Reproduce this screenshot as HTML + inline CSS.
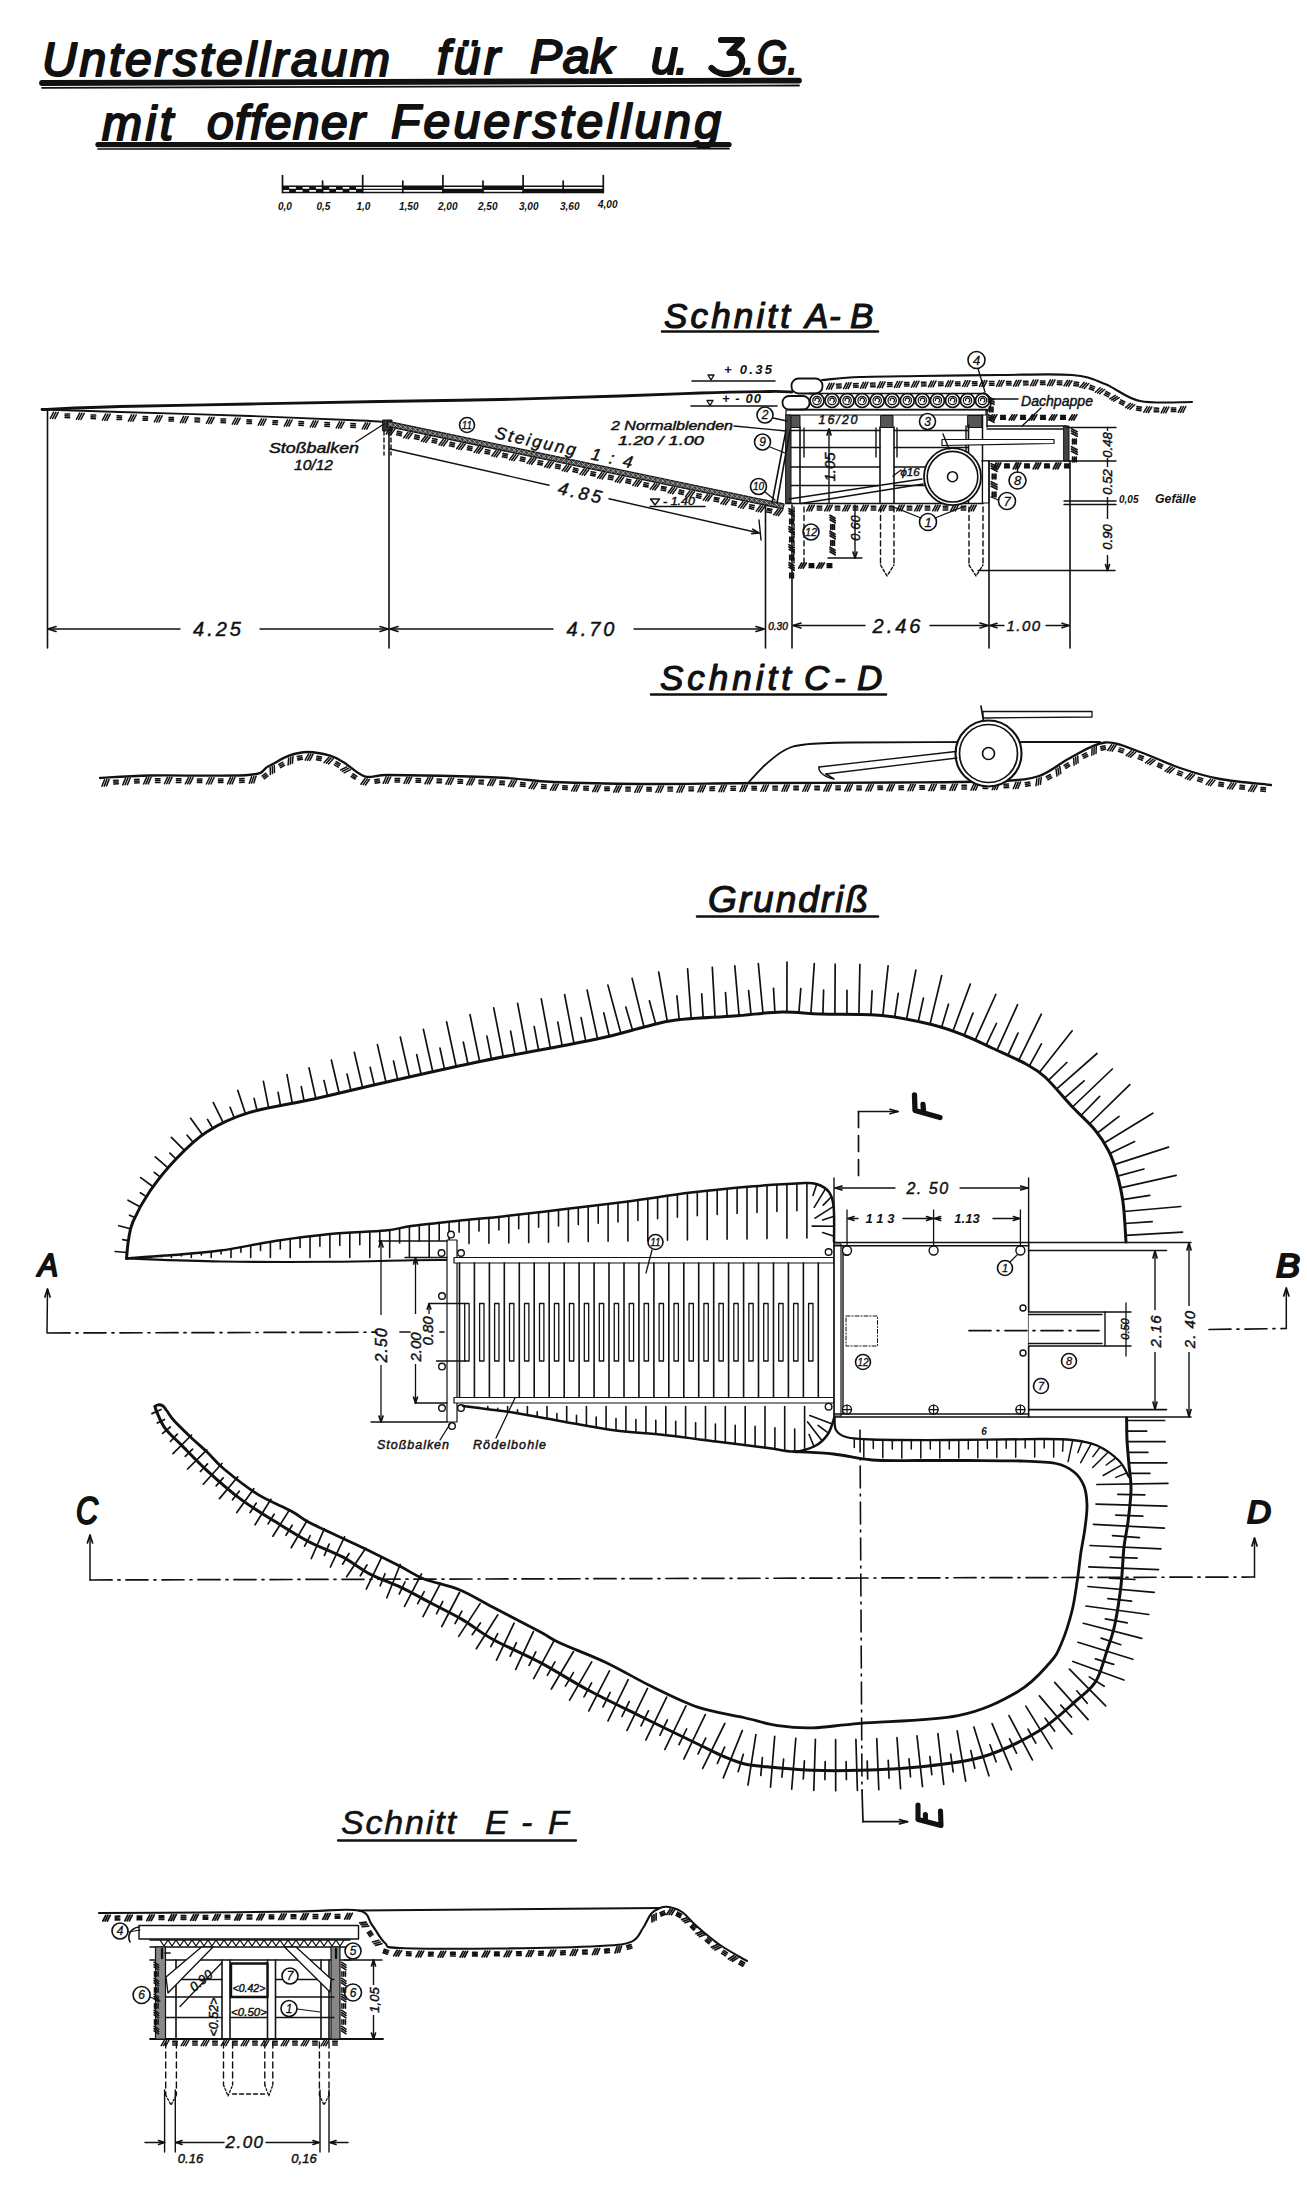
<!DOCTYPE html>
<html><head><meta charset="utf-8"><title>Unterstellraum</title>
<style>
html,body{margin:0;padding:0;background:#fff;}
body{width:1307px;height:2200px;overflow:hidden;}
svg{display:block;}
svg path, svg circle, svg ellipse, svg rect, svg polyline{fill:none;stroke:#111;stroke-linecap:round;stroke-linejoin:round;}
text{font-family:"Liberation Sans",sans-serif;fill:#111;stroke:none;}
.t{font-style:italic;stroke:#111;stroke-width:0.45px;}
.n{font-style:italic;stroke:#111;stroke-width:0.3px;}
.h{font-style:italic;font-weight:bold;}
.ht2{font-style:italic;stroke:#111;stroke-width:1.2px;stroke-linejoin:round;}
.ht3{font-style:italic;stroke:#111;stroke-width:0.6px;stroke-linejoin:round;}
.ht{font-style:italic;stroke:#111;stroke-width:2.1px;stroke-linejoin:round;}
</style></head>
<body><svg width="1307" height="2200" viewBox="0 0 1307 2200">
<rect x="0" y="0" width="1307" height="2200" style="fill:#fff;stroke:none"/>
<text class="ht" x="42" y="76" font-size="48" textLength="348" lengthAdjust="spacing">Unterstellraum</text>
<text class="ht" x="437" y="73.8" font-size="48" textLength="63" lengthAdjust="spacing">für</text>
<text class="ht" x="530" y="73.2" font-size="48" textLength="84" lengthAdjust="spacing">Pak</text>
<text class="ht" x="651" y="73.5" font-size="48" textLength="27" lengthAdjust="spacingAndGlyphs">u</text>
<text class="ht" x="675" y="73.5" font-size="48" textLength="10" lengthAdjust="spacing">.</text>
<text class="ht" x="742" y="73.5" font-size="48" textLength="8" lengthAdjust="spacing">.</text>
<text class="ht" x="757" y="73.8" font-size="48" textLength="41" lengthAdjust="spacingAndGlyphs">G.</text>
<path d="M721 40L742 40L729.5 53L736 53C745 55 745 70 731 73.5C724 75 716 73 711.5 68" stroke-width="6.2"/>
<path d="M42 83L799 80.6" stroke-width="5.8" stroke-linecap="round"/>
<path d="M42 87.8L799 85.5" stroke-width="1.8"/>
<text class="ht" x="102" y="140" font-size="48" textLength="71" lengthAdjust="spacing">mit</text>
<text class="ht" x="207" y="139.2" font-size="48" textLength="158" lengthAdjust="spacing">offener</text>
<text class="ht" x="391" y="138.2" font-size="48" textLength="330" lengthAdjust="spacing">Feuerstellung</text>
<path d="M98 144.6L729 144.6" stroke-width="5.3" stroke-linecap="round"/>
<path d="M98 149L729 148.7" stroke-width="1.7"/>
<path d="M282.5 186.2L603.3 186.2" stroke-width="1.4"/>
<path d="M282.5 192.5L603.3 192.5" stroke-width="1.4"/>
<path d="M282.5 189.3L603.3 189.3" stroke-width="1.2"/>
<rect x="282.5" y="186.2" width="6.7" height="3.1" style="fill:#111;stroke:none"/>
<rect x="289.2" y="189.3" width="6.7" height="3.2" style="fill:#111;stroke:none"/>
<rect x="295.9" y="186.2" width="6.7" height="3.1" style="fill:#111;stroke:none"/>
<rect x="302.6" y="189.3" width="6.7" height="3.2" style="fill:#111;stroke:none"/>
<rect x="309.2" y="186.2" width="6.7" height="3.1" style="fill:#111;stroke:none"/>
<rect x="315.9" y="189.3" width="6.7" height="3.2" style="fill:#111;stroke:none"/>
<rect x="322.6" y="186.2" width="6.7" height="3.1" style="fill:#111;stroke:none"/>
<rect x="329.3" y="189.3" width="6.7" height="3.2" style="fill:#111;stroke:none"/>
<rect x="336" y="186.2" width="6.7" height="3.1" style="fill:#111;stroke:none"/>
<rect x="342.7" y="189.3" width="6.7" height="3.2" style="fill:#111;stroke:none"/>
<rect x="349.3" y="186.2" width="6.7" height="3.1" style="fill:#111;stroke:none"/>
<rect x="356" y="189.3" width="6.7" height="3.2" style="fill:#111;stroke:none"/>
<rect x="402.8" y="186.2" width="40.1" height="3.1" style="fill:#111;stroke:none"/>
<rect x="442.9" y="189.3" width="40.1" height="3.2" style="fill:#111;stroke:none"/>
<rect x="483" y="186.2" width="40.1" height="3.1" style="fill:#111;stroke:none"/>
<rect x="523.1" y="189.3" width="40.1" height="3.2" style="fill:#111;stroke:none"/>
<rect x="563.2" y="189.3" width="40.1" height="3.2" style="fill:#111;stroke:none"/>
<path d="M282.5 175.5L282.5 192.5" stroke-width="1.7"/>
<path d="M322.6 181L322.6 192.5" stroke-width="1.7"/>
<path d="M362.7 175.5L362.7 192.5" stroke-width="1.7"/>
<path d="M402.8 181L402.8 192.5" stroke-width="1.7"/>
<path d="M442.9 175.5L442.9 192.5" stroke-width="1.7"/>
<path d="M483 181L483 192.5" stroke-width="1.7"/>
<path d="M523.1 175.5L523.1 192.5" stroke-width="1.7"/>
<path d="M563.2 181L563.2 192.5" stroke-width="1.7"/>
<path d="M603.3 175.5L603.3 192.5" stroke-width="1.7"/>
<text class="h" x="278" y="210" font-size="10" >0,0</text>
<text class="h" x="316.5" y="210" font-size="10" >0,5</text>
<text class="h" x="356.5" y="210" font-size="10" >1,0</text>
<text class="h" x="399" y="210" font-size="10" >1,50</text>
<text class="h" x="438" y="210" font-size="10" >2,00</text>
<text class="h" x="478" y="210" font-size="10" >2,50</text>
<text class="h" x="519" y="210" font-size="10" >3,00</text>
<text class="h" x="560" y="210" font-size="10" >3,60</text>
<text class="h" x="598" y="207.5" font-size="10" >4,00</text>
<text class="ht2" x="664" y="328" font-size="35" textLength="126" lengthAdjust="spacing">Schnitt</text>
<text class="ht2" x="805" y="328" font-size="35" textLength="23" lengthAdjust="spacing">A</text>
<text class="ht2" x="829" y="328" font-size="35" textLength="11" lengthAdjust="spacing">-</text>
<text class="ht2" x="850" y="328" font-size="35" textLength="26" lengthAdjust="spacing">B</text>
<path d="M662 331.5L878 331.5" stroke-width="2.5"/>
<path d="M42 409.5C55 409 85.3 407.4 120 406.5C154.7 405.6 206.7 404.8 250 404C293.3 403.2 338.3 402.2 380 401.5C421.7 400.8 460 400.4 500 399.5C540 398.6 586.7 397.1 620 396C653.3 394.9 675 393.8 700 393C725 392.2 754.7 391.7 770 391.5C785.3 391.3 788.3 391.9 792 392" stroke-width="2.8"/>
<path d="M42 409.5C55 409.9 85.3 410.9 120 412C154.7 413.1 210 414.6 250 416C290 417.4 337.3 419.5 360 420.5C382.7 421.5 381.7 421.8 386 422" stroke-width="1.8"/>
<path d="M53.6 412.2L50.4 418.4M55.9 412.3L52.7 418.5M58.2 412.4L55 418.6M65.1 414L69.7 414.1M65 415.8L69.6 415.9M65 417.6L69.6 417.7M79.6 413.1L76.4 419.3M81.9 413.2L78.7 419.4M84.2 413.3L81 419.5M91.1 414.9L95.7 415.1M91 416.7L95.6 416.9M91 418.5L95.5 418.7M105.6 414L102.4 420.2M107.9 414.1L104.7 420.3M110.2 414.2L107 420.4M117.1 415.8L121.7 415.9M117 417.6L121.6 417.7M116.9 419.4L121.5 419.5M131.6 414.9L128.4 421.1M133.9 414.9L130.7 421.2M136.2 415L133 421.2M143.1 416.6L147.7 416.7M143 418.4L147.6 418.5M143 420.2L147.5 420.3M157.6 415.7L154.4 421.9M159.9 415.7L156.7 422M162.2 415.8L159 422M169 417.4L173.6 417.5M169 419.2L173.6 419.3M168.9 421L173.5 421.1M183.6 416.4L180.4 422.7M185.9 416.5L182.7 422.7M188.2 416.6L185 422.8M195 418.1L199.6 418.3M195 419.9L199.6 420.1M194.9 421.7L199.5 421.9M209.6 417.2L206.4 423.4M211.9 417.3L208.7 423.5M214.2 417.3L211 423.6M221 418.9L225.6 419.1M221 420.7L225.6 420.9M220.9 422.5L225.5 422.7M235.6 418L232.3 424.2M237.9 418.1L234.6 424.3M240.2 418.2L236.9 424.4M247 419.8L251.6 419.9M246.9 421.6L251.5 421.7M246.9 423.4L251.5 423.5M261.5 418.9L258.3 425.1M263.8 419L260.6 425.2M266.1 419.1L262.9 425.3M273 420.7L277.6 420.8M272.9 422.5L277.5 422.6M272.8 424.3L277.4 424.4M287.5 419.8L284.3 426.1M289.8 419.9L286.6 426.1M292.1 420L288.9 426.2M299 421.6L303.6 421.8M298.9 423.4L303.5 423.6M298.8 425.2L303.4 425.4M313.5 420.8L310.3 427M315.8 420.9L312.6 427.1M318.1 421L314.9 427.2M324.9 422.6L329.5 422.8M324.9 424.4L329.5 424.6M324.8 426.2L329.4 426.4M339.5 421.8L336.2 428M341.8 421.9L338.5 428.1M344.1 422L340.8 428.2M350.9 423.6L355.5 423.8M350.8 425.4L355.4 425.6M350.8 427.2L355.4 427.4M365.5 422.8L362.2 429M367.8 422.9L364.5 429.1M370.1 423L366.8 429.2" stroke-width="1.5"/>
<rect x="383" y="420" width="9" height="11" style="fill:#333;stroke:#111;stroke-width:1"/>
<path d="M384 431L384 455" stroke-width="1.4" stroke-dasharray="4 3"/>
<path d="M391 431L391 455" stroke-width="1.4" stroke-dasharray="4 3"/>
<text class="t" x="269" y="453" font-size="14" text-anchor="start" textLength="90" lengthAdjust="spacingAndGlyphs">Stoßbalken</text>
<text class="t" x="294" y="470" font-size="14" text-anchor="start" textLength="39" lengthAdjust="spacingAndGlyphs">10/12</text>
<path d="M356 442L384 424" stroke-width="1.4"/>
<path d="M388 421.5L784 504L783 508.9L387 426.4Z" style="fill:#444;stroke:#111;stroke-width:1.3"/>
<path d="M388.7 422.5L392.3 426M392.3 422.5L388.7 426M393.6 423.5L397.2 427M397.2 423.5L393.6 427M398.6 424.6L402.2 428.1M402.2 424.6L398.6 428.1M403.5 425.6L407.1 429.1M407.1 425.6L403.5 429.1M408.5 426.6L412.1 430.1M412.1 426.6L408.5 430.1M413.4 427.7L417 431.2M417 427.7L413.4 431.2M418.4 428.7L422 432.2M422 428.7L418.4 432.2M423.3 429.7L426.9 433.2M426.9 429.7L423.3 433.2M428.3 430.8L431.9 434.3M431.9 430.8L428.3 434.3M433.2 431.8L436.8 435.3M436.8 431.8L433.2 435.3M438.2 432.8L441.8 436.3M441.8 432.8L438.2 436.3M443.1 433.9L446.7 437.4M446.7 433.9L443.1 437.4M448.1 434.9L451.7 438.4M451.7 434.9L448.1 438.4M453 435.9L456.6 439.4M456.6 435.9L453 439.4M458 437L461.6 440.5M461.6 437L458 440.5M462.9 438L466.5 441.5M466.5 438L462.9 441.5M467.9 439L471.5 442.5M471.5 439L467.9 442.5M472.8 440L476.4 443.5M476.4 440L472.8 443.5M477.8 441.1L481.4 444.6M481.4 441.1L477.8 444.6M482.7 442.1L486.3 445.6M486.3 442.1L482.7 445.6M487.7 443.1L491.3 446.6M491.3 443.1L487.7 446.6M492.6 444.2L496.2 447.7M496.2 444.2L492.6 447.7M497.6 445.2L501.2 448.7M501.2 445.2L497.6 448.7M502.5 446.2L506.1 449.7M506.1 446.2L502.5 449.7M507.5 447.3L511.1 450.8M511.1 447.3L507.5 450.8M512.4 448.3L516 451.8M516 448.3L512.4 451.8M517.4 449.3L521 452.8M521 449.3L517.4 452.8M522.3 450.4L525.9 453.9M525.9 450.4L522.3 453.9M527.3 451.4L530.9 454.9M530.9 451.4L527.3 454.9M532.2 452.4L535.8 455.9M535.8 452.4L532.2 455.9M537.2 453.5L540.8 457M540.8 453.5L537.2 457M542.1 454.5L545.7 458M545.7 454.5L542.1 458M547.1 455.5L550.7 459M550.7 455.5L547.1 459M552 456.5L555.6 460M555.6 456.5L552 460M557 457.6L560.6 461.1M560.6 457.6L557 461.1M561.9 458.6L565.5 462.1M565.5 458.6L561.9 462.1M566.9 459.6L570.5 463.1M570.5 459.6L566.9 463.1M571.8 460.7L575.4 464.2M575.4 460.7L571.8 464.2M576.8 461.7L580.4 465.2M580.4 461.7L576.8 465.2M581.7 462.7L585.3 466.2M585.3 462.7L581.7 466.2M586.7 463.8L590.3 467.3M590.3 463.8L586.7 467.3M591.6 464.8L595.2 468.3M595.2 464.8L591.6 468.3M596.6 465.8L600.2 469.3M600.2 465.8L596.6 469.3M601.5 466.9L605.1 470.4M605.1 466.9L601.5 470.4M606.5 467.9L610.1 471.4M610.1 467.9L606.5 471.4M611.4 468.9L615 472.4M615 468.9L611.4 472.4M616.4 470L620 473.5M620 470L616.4 473.5M621.3 471L624.9 474.5M624.9 471L621.3 474.5M626.3 472L629.9 475.5M629.9 472L626.3 475.5M631.2 473L634.8 476.5M634.8 473L631.2 476.5M636.2 474.1L639.8 477.6M639.8 474.1L636.2 477.6M641.1 475.1L644.7 478.6M644.7 475.1L641.1 478.6M646.1 476.1L649.7 479.6M649.7 476.1L646.1 479.6M651 477.2L654.6 480.7M654.6 477.2L651 480.7M656 478.2L659.6 481.7M659.6 478.2L656 481.7M660.9 479.2L664.5 482.7M664.5 479.2L660.9 482.7M665.9 480.3L669.5 483.8M669.5 480.3L665.9 483.8M670.8 481.3L674.4 484.8M674.4 481.3L670.8 484.8M675.8 482.3L679.4 485.8M679.4 482.3L675.8 485.8M680.7 483.4L684.3 486.9M684.3 483.4L680.7 486.9M685.7 484.4L689.3 487.9M689.3 484.4L685.7 487.9M690.6 485.4L694.2 488.9M694.2 485.4L690.6 488.9M695.6 486.5L699.2 490M699.2 486.5L695.6 490M700.5 487.5L704.1 491M704.1 487.5L700.5 491M705.5 488.5L709.1 492M709.1 488.5L705.5 492M710.4 489.5L714 493M714 489.5L710.4 493M715.4 490.6L719 494.1M719 490.6L715.4 494.1M720.3 491.6L723.9 495.1M723.9 491.6L720.3 495.1M725.3 492.6L728.9 496.1M728.9 492.6L725.3 496.1M730.2 493.7L733.8 497.2M733.8 493.7L730.2 497.2M735.2 494.7L738.8 498.2M738.8 494.7L735.2 498.2M740.1 495.7L743.7 499.2M743.7 495.7L740.1 499.2M745.1 496.8L748.7 500.3M748.7 496.8L745.1 500.3M750 497.8L753.6 501.3M753.6 497.8L750 501.3M755 498.8L758.6 502.3M758.6 498.8L755 502.3M759.9 499.9L763.5 503.4M763.5 499.9L759.9 503.4M764.9 500.9L768.5 504.4M768.5 500.9L764.9 504.4M769.8 501.9L773.4 505.4M773.4 501.9L769.8 505.4M774.8 503L778.4 506.5M778.4 503L774.8 506.5M779.7 504L783.3 507.5M783.3 504L779.7 507.5" style="fill:none;stroke:#ddd;stroke-width:0.6"/>
<path d="M390.3 428.4L386.1 434M392.6 428.9L388.4 434.5M394.8 429.4L390.6 434.9M397.4 431.3L401.9 432.2M397 433L401.5 434M396.7 434.8L401.2 435.7M408 432.1L403.7 437.7M410.2 432.6L406 438.1M412.5 433L408.2 438.6M415 435L419.5 435.9M414.7 436.7L419.2 437.7M414.3 438.5L418.8 439.4M425.6 435.8L421.4 441.3M427.8 436.2L423.6 441.8M430.1 436.7L425.9 442.3M432.6 438.6L437.1 439.6M432.3 440.4L436.8 441.3M431.9 442.2L436.4 443.1M443.2 439.4L439 445M445.5 439.9L441.2 445.5M447.7 440.4L443.5 446M450.3 442.3L454.8 443.2M449.9 444.1L454.4 445M449.5 445.8L454 446.8M460.8 443.1L456.6 448.7M463.1 443.6L458.8 449.2M465.3 444L461.1 449.6M467.9 446L472.4 446.9M467.5 447.7L472 448.7M467.2 449.5L471.7 450.4M478.4 446.8L474.2 452.4M480.7 447.2L476.5 452.8M482.9 447.7L478.7 453.3M485.5 449.6L490 450.6M485.1 451.4L489.6 452.3M484.8 453.2L489.3 454.1M496.1 450.4L491.8 456M498.3 450.9L494.1 456.5M500.6 451.4L496.3 457M503.1 453.3L507.6 454.3M502.8 455.1L507.3 456M502.4 456.8L506.9 457.8M513.7 454.1L509.5 459.7M515.9 454.6L511.7 460.2M518.2 455.1L514 460.6M520.8 457L525.3 457.9M520.4 458.7L524.9 459.7M520 460.5L524.5 461.4M531.3 457.8L527.1 463.4M533.6 458.3L529.3 463.8M535.8 458.7L531.6 464.3M538.4 460.7L542.9 461.6M538 462.4L542.5 463.4M537.6 464.2L542.1 465.1M548.9 461.5L544.7 467M551.2 461.9L547 467.5M553.4 462.4L549.2 468M556 464.3L560.5 465.3M555.6 466.1L560.1 467M555.3 467.9L559.8 468.8M566.6 465.1L562.3 470.7M568.8 465.6L564.6 471.2M571.1 466.1L566.8 471.7M573.6 468L578.1 468.9M573.3 469.8L577.8 470.7M572.9 471.5L577.4 472.5M584.2 468.8L579.9 474.4M586.4 469.3L582.2 474.9M588.7 469.7L584.5 475.3M591.2 471.7L595.7 472.6M590.9 473.4L595.4 474.4M590.5 475.2L595 476.1M601.8 472.5L597.6 478.1M604 472.9L599.8 478.5M606.3 473.4L602.1 479M608.9 475.3L613.4 476.3M608.5 477.1L613 478M608.1 478.9L612.6 479.8M619.4 476.1L615.2 481.7M621.7 476.6L617.4 482.2M623.9 477.1L619.7 482.7M626.5 479L631 479.9M626.1 480.8L630.6 481.7M625.7 482.5L630.3 483.5M637 479.8L632.8 485.4M639.3 480.3L635.1 485.9M641.5 480.8L637.3 486.3M644.1 482.7L648.6 483.6M643.7 484.4L648.2 485.4M643.4 486.2L647.9 487.1M654.7 483.5L650.4 489.1M656.9 484L652.7 489.5M659.2 484.4L654.9 490M661.7 486.4L666.2 487.3M661.4 488.1L665.9 489.1M661 489.9L665.5 490.8M672.3 487.2L668.1 492.7M674.5 487.6L670.3 493.2M676.8 488.1L672.6 493.7M679.3 490L683.9 491M679 491.8L683.5 492.7M678.6 493.5L683.1 494.5M689.9 490.8L685.7 496.4M692.2 491.3L687.9 496.9M694.4 491.8L690.2 497.4M697 493.7L701.5 494.6M696.6 495.5L701.1 496.4M696.2 497.2L700.7 498.2M707.5 494.5L703.3 500.1M709.8 495L705.6 500.6M712 495.4L707.8 501M714.6 497.4L719.1 498.3M714.2 499.1L718.7 500.1M713.9 500.9L718.4 501.8M725.1 498.2L720.9 503.8M727.4 498.6L723.2 504.2M729.7 499.1L725.4 504.7M732.2 501L736.7 502M731.8 502.8L736.3 503.7M731.5 504.6L736 505.5M742.8 501.8L738.5 507.4M745 502.3L740.8 507.9M747.3 502.8L743 508.4M749.8 504.7L754.3 505.6M749.5 506.5L754 507.4M749.1 508.2L753.6 509.2M760.4 505.5L756.2 511.1M762.6 506L758.4 511.6M764.9 506.5L760.7 512M767.5 508.4L772 509.3M767.1 510.1L771.6 511.1M766.7 511.9L771.2 512.8M778 509.2L773.8 514.8M780.3 509.7L776 515.2M782.5 510.1L778.3 515.7" stroke-width="1.5"/>
<path d="M390 449L549 485.2" stroke-width="1.4"/>
<path d="M609 498.8L759 533" stroke-width="1.4"/>
<path d="M751.7 533.6L759 533L752.7 529.3" stroke-width="1.7"/>
<path d="M759 520L761 540" stroke-width="1.4"/>
<text class="t" x="580" y="499" font-size="18" text-anchor="middle" transform="rotate(12.8 580 499)" letter-spacing="3">4.85</text>
<text class="t" x="494" y="438" font-size="17" text-anchor="start" transform="rotate(12.5 494 438)" letter-spacing="2.2">Steigung&#160;&#160;1 : 4</text>
<circle cx="467" cy="425" r="7.5" stroke-width="1.6" style="fill:white"/>
<text class="n" x="467" y="428.6" font-size="10" text-anchor="middle">11</text>
<text class="t" x="611" y="430" font-size="13" text-anchor="start" textLength="122" lengthAdjust="spacingAndGlyphs">2 Normalblenden</text>
<text class="t" x="618" y="445" font-size="13" text-anchor="start" textLength="86" lengthAdjust="spacingAndGlyphs">1.20 / 1.00</text>
<path d="M734 426L786 431" stroke-width="1.3"/>
<path d="M692 381L775 381" stroke-width="1.5"/>
<path d="M708 375L714 375L711 380Z" stroke-width="1.4"/>
<text class="h" x="724" y="374.3" font-size="13" text-anchor="start" textLength="48" lengthAdjust="spacing">+ 0.35</text>
<path d="M691 406L777 406" stroke-width="1.5"/>
<path d="M707 400.5L713 400.5L710 405.5Z" stroke-width="1.4"/>
<text class="h" x="722" y="402.7" font-size="13" text-anchor="start" textLength="39" lengthAdjust="spacing">+ - 00</text>
<path d="M650 506.5L705 506.5" stroke-width="1.4"/>
<path d="M650.5 499L659.5 499L655 505Z" stroke-width="1.4"/>
<text class="t" x="663" y="505" font-size="11" text-anchor="start" textLength="32" lengthAdjust="spacingAndGlyphs">- 1.40</text>
<path d="M822 380C828.3 379.5 843.7 377.7 860 377C876.3 376.3 896.7 376.3 920 376C943.3 375.7 974.7 375.2 1000 375C1025.3 374.8 1054.5 373.5 1072 375C1089.5 376.5 1093.7 379.7 1105 384C1116.3 388.3 1125.5 398 1140 401C1154.5 404 1183.3 401.8 1192 402" stroke-width="2.1"/>
<path d="M829.5 383.4L826.6 389.2M831.8 383.3L828.9 389.2M834.1 383.3L831.2 389.1M836.5 384.3L841.1 384.1M836.6 386.1L841.1 385.9M836.6 387.9L841.2 387.7M846.5 382.9L843.6 388.7M848.8 382.8L845.9 388.6M851.1 382.7L848.2 388.6M853.5 383.7L858.1 383.6M853.5 385.5L858.1 385.4M853.6 387.3L858.2 387.2M863.4 382.4L860.6 388.2M865.7 382.3L862.9 388.1M868 382.2L865.2 388.1M870.5 383.2L875.1 383.1M870.5 385L875.1 384.9M870.6 386.8L875.2 386.7M880.4 381.9L877.6 387.7M882.7 381.9L879.9 387.7M885 381.8L882.2 387.6M887.5 382.8L892.1 382.7M887.5 384.6L892.1 384.5M887.5 386.4L892.1 386.3M897.4 381.5L894.5 387.4M899.7 381.5L896.8 387.3M902 381.5L899.1 387.3M904.4 382.5L909 382.4M904.5 384.3L909.1 384.2M904.5 386.1L909.1 386M914.4 381.3L911.5 387.1M916.7 381.2L913.8 387M919 381.2L916.1 387M921.4 382.3L926 382.2M921.5 384.1L926.1 384M921.5 385.9L926.1 385.8M931.4 381.1L928.5 386.9M933.7 381L930.8 386.8M936 381L933.1 386.8M938.4 382.1L943 382M938.5 383.9L943.1 383.8M938.5 385.7L943.1 385.6M948.4 380.9L945.5 386.7M950.7 380.9L947.8 386.6M953 380.8L950.1 386.6M955.4 381.9L960 381.9M955.4 383.7L960 383.7M955.5 385.5L960.1 385.5M965.4 380.7L962.5 386.5M967.7 380.7L964.8 386.5M970 380.7L967.1 386.5M972.4 381.8L977 381.7M972.4 383.6L977 383.5M972.5 385.4L977.1 385.3M982.4 380.6L979.5 386.4M984.7 380.6L981.8 386.4M987 380.6L984.1 386.4M989.4 381.6L994 381.6M989.4 383.4L994 383.4M989.5 385.2L994.1 385.2M999.4 380.5L996.5 386.3M1001.7 380.5L998.8 386.3M1004 380.5L1001.1 386.2M1006.4 381.5L1011 381.5M1006.5 383.3L1011.1 383.3M1006.5 385.1L1011.1 385.1M1016.4 380.3L1013.5 386.1M1018.7 380.3L1015.8 386.1M1021 380.2L1018.1 386M1023.4 381.3L1028 381.2M1023.5 383.1L1028.1 383M1023.5 384.9L1028.1 384.8M1033.4 380L1030.5 385.8M1035.7 380L1032.8 385.8M1038 379.9L1035.1 385.7M1040.4 381L1045 381M1040.4 382.8L1045 382.8M1040.5 384.6L1045.1 384.6M1050.4 379.9L1047.4 385.6M1052.7 379.9L1049.7 385.6M1055 379.9L1052 385.6M1057.4 381L1062 381.1M1057.3 382.8L1061.9 382.9M1057.2 384.6L1061.8 384.7M1067.4 380.3L1064 385.9M1069.7 380.5L1066.3 386M1072 380.6L1068.6 386.2M1074.2 381.9L1078.7 382.5M1074 383.7L1078.5 384.3M1073.7 385.5L1078.3 386.1M1084.1 382.4L1079.9 387.3M1086.4 383L1082.1 387.8M1088.6 383.5L1084.3 388.4M1090.4 385.3L1094.7 386.9M1089.8 387L1094.1 388.6M1089.2 388.7L1093.5 390.3M1100.2 387.8L1095.3 392.2M1102.3 388.7L1097.5 393M1104.5 389.5L1099.7 393.8M1106.1 391.4L1110.1 393.6M1105.2 393L1109.2 395.2M1104.3 394.6L1108.4 396.8M1115.3 395.4L1109.8 398.8M1117.2 396.6L1111.7 400M1119.2 397.7L1113.7 401.2M1120.8 399.9L1124.9 402M1120 401.5L1124.1 403.6M1119.2 403.1L1123.3 405.2M1130.4 403.2L1125.6 407.6M1132.6 404L1127.8 408.4M1134.7 404.8L1130 409.2M1137 406.4L1141.5 407.2M1136.7 408.2L1141.2 409M1136.4 410L1140.9 410.8M1147.1 406.7L1143.8 412.2M1149.4 406.8L1146.1 412.4M1151.7 407L1148.4 412.5M1154.1 408.1L1158.7 408.2M1154.1 409.9L1158.7 410M1154.1 411.7L1158.7 411.8M1164.2 407.1L1161.2 412.9M1166.5 407.1L1163.5 412.8M1168.8 407L1165.8 412.8M1171.2 408L1175.8 407.9M1171.3 409.8L1175.9 409.7M1171.3 411.6L1175.9 411.5M1181.2 406.6L1178.3 412.4M1183.5 406.5L1180.6 412.4M1185.8 406.5L1182.9 412.3" stroke-width="1.5"/>
<rect x="791.5" y="378.5" width="31" height="15" rx="7" ry="7" stroke-width="1.8" style="fill:#fff"/>
<rect x="782.5" y="396" width="27" height="13.5" rx="6.5" ry="6.5" stroke-width="1.8" style="fill:#fff"/>
<path d="M809 393.5L985 393.5" stroke-width="1.7"/>
<path d="M800 409.5L987 409.5" stroke-width="1.7"/>
<circle cx="817" cy="400.5" r="7" stroke-width="1.7" style="fill:none"/>
<circle cx="817" cy="400.5" r="4.2" stroke-width="1.2" style="fill:none"/>
<path d="M815 400.5A2.2 2.2 0 1 1 818.5 402" stroke-width="1.3"/>
<circle cx="832" cy="400.5" r="7" stroke-width="1.7" style="fill:none"/>
<circle cx="832" cy="400.5" r="4.2" stroke-width="1.2" style="fill:none"/>
<path d="M830 400.5A2.2 2.2 0 1 1 833.5 402" stroke-width="1.3"/>
<circle cx="847.1" cy="400.5" r="7" stroke-width="1.7" style="fill:none"/>
<circle cx="847.1" cy="400.5" r="4.2" stroke-width="1.2" style="fill:none"/>
<path d="M845.1 400.5A2.2 2.2 0 1 1 848.6 402" stroke-width="1.3"/>
<circle cx="862.1" cy="400.5" r="7" stroke-width="1.7" style="fill:none"/>
<circle cx="862.1" cy="400.5" r="4.2" stroke-width="1.2" style="fill:none"/>
<path d="M860.1 400.5A2.2 2.2 0 1 1 863.6 402" stroke-width="1.3"/>
<circle cx="877.2" cy="400.5" r="7" stroke-width="1.7" style="fill:none"/>
<circle cx="877.2" cy="400.5" r="4.2" stroke-width="1.2" style="fill:none"/>
<path d="M875.2 400.5A2.2 2.2 0 1 1 878.7 402" stroke-width="1.3"/>
<circle cx="892.2" cy="400.5" r="7" stroke-width="1.7" style="fill:none"/>
<circle cx="892.2" cy="400.5" r="4.2" stroke-width="1.2" style="fill:none"/>
<path d="M890.2 400.5A2.2 2.2 0 1 1 893.8 402" stroke-width="1.3"/>
<circle cx="907.3" cy="400.5" r="7" stroke-width="1.7" style="fill:none"/>
<circle cx="907.3" cy="400.5" r="4.2" stroke-width="1.2" style="fill:none"/>
<path d="M905.3 400.5A2.2 2.2 0 1 1 908.8 402" stroke-width="1.3"/>
<circle cx="922.4" cy="400.5" r="7" stroke-width="1.7" style="fill:none"/>
<circle cx="922.4" cy="400.5" r="4.2" stroke-width="1.2" style="fill:none"/>
<path d="M920.4 400.5A2.2 2.2 0 1 1 923.9 402" stroke-width="1.3"/>
<circle cx="937.4" cy="400.5" r="7" stroke-width="1.7" style="fill:none"/>
<circle cx="937.4" cy="400.5" r="4.2" stroke-width="1.2" style="fill:none"/>
<path d="M935.4 400.5A2.2 2.2 0 1 1 938.9 402" stroke-width="1.3"/>
<circle cx="952.5" cy="400.5" r="7" stroke-width="1.7" style="fill:none"/>
<circle cx="952.5" cy="400.5" r="4.2" stroke-width="1.2" style="fill:none"/>
<path d="M950.5 400.5A2.2 2.2 0 1 1 954 402" stroke-width="1.3"/>
<circle cx="967.5" cy="400.5" r="7" stroke-width="1.7" style="fill:none"/>
<circle cx="967.5" cy="400.5" r="4.2" stroke-width="1.2" style="fill:none"/>
<path d="M965.5 400.5A2.2 2.2 0 1 1 969 402" stroke-width="1.3"/>
<circle cx="982.5" cy="400.5" r="7" stroke-width="1.7" style="fill:none"/>
<circle cx="982.5" cy="400.5" r="4.2" stroke-width="1.2" style="fill:none"/>
<path d="M980.5 400.5A2.2 2.2 0 1 1 984 402" stroke-width="1.3"/>
<path d="M984 393C992 396 993 406 987 411" stroke-width="1.8"/>
<rect x="786" y="410" width="200" height="5" stroke-width="1.2"/>
<rect x="787" y="415.5" width="13" height="12" style="fill:#555;stroke:#111;stroke-width:1"/>
<rect x="881" y="415.5" width="12" height="12" style="fill:#555;stroke:#111;stroke-width:1"/>
<rect x="968" y="415.5" width="14" height="12" style="fill:#555;stroke:#111;stroke-width:1"/>
<rect x="786" y="415" width="5" height="88" style="fill:#444;stroke:#111;stroke-width:1"/>
<path d="M800 427L800 503" stroke-width="1.6"/>
<path d="M880 427L880 503" stroke-width="1.6"/>
<path d="M894 427L894 503" stroke-width="1.6"/>
<path d="M968.5 425L968.5 503" stroke-width="1.6"/>
<path d="M982.5 415L982.5 503" stroke-width="1.5"/>
<path d="M804 428L804 457" stroke-width="1.4"/>
<path d="M876 428L876 457" stroke-width="1.4"/>
<path d="M897 428L897 457" stroke-width="1.4"/>
<path d="M966 426L966 459" stroke-width="1.4"/>
<path d="M791 430.5L880 430.5" stroke-width="1.4"/>
<path d="M894 430.5L968 430.5" stroke-width="1.4"/>
<path d="M791 447.5L880 447.5" stroke-width="1.4"/>
<path d="M894 447.5L968 447.5" stroke-width="1.4"/>
<path d="M791 467L880 467" stroke-width="1.4"/>
<path d="M894 467L968 467" stroke-width="1.4"/>
<path d="M791 485.5L880 485.5" stroke-width="1.4"/>
<path d="M894 485.5L968 485.5" stroke-width="1.4"/>
<path d="M786 503.5L983 503.5" stroke-width="1.7"/>
<path d="M809.7 505.2L806.7 510.9M812 505.2L809 510.9M814.3 505.2L811.3 510.9M817.2 506.3L821.8 506.3M817.2 508.1L821.8 508.1M817.2 509.9L821.8 509.9M827.7 505.2L824.7 510.9M830 505.2L827 510.9M832.3 505.2L829.3 510.9M835.2 506.3L839.8 506.3M835.2 508.1L839.8 508.1M835.2 509.9L839.8 509.9M845.7 505.2L842.7 510.9M848 505.2L845 510.9M850.3 505.2L847.3 510.9M853.2 506.3L857.8 506.3M853.2 508.1L857.8 508.1M853.2 509.9L857.8 509.9M863.7 505.2L860.7 510.9M866 505.2L863 510.9M868.3 505.2L865.3 510.9M871.2 506.3L875.8 506.3M871.2 508.1L875.8 508.1M871.2 509.9L875.8 509.9M881.7 505.2L878.7 510.9M884 505.2L881 510.9M886.3 505.2L883.3 510.9M889.2 506.3L893.8 506.3M889.2 508.1L893.8 508.1M889.2 509.9L893.8 509.9M899.7 505.2L896.7 510.9M902 505.2L899 510.9M904.3 505.2L901.3 510.9M907.2 506.3L911.8 506.3M907.2 508.1L911.8 508.1M907.2 509.9L911.8 509.9M917.7 505.2L914.7 510.9M920 505.2L917 510.9M922.3 505.2L919.3 510.9M925.2 506.3L929.8 506.3M925.2 508.1L929.8 508.1M925.2 509.9L929.8 509.9M935.7 505.2L932.7 510.9M938 505.2L935 510.9M940.3 505.2L937.3 510.9M943.2 506.3L947.8 506.3M943.2 508.1L947.8 508.1M943.2 509.9L947.8 509.9M953.7 505.2L950.7 510.9M956 505.2L953 510.9M958.3 505.2L955.3 510.9M961.2 506.3L965.8 506.3M961.2 508.1L965.8 508.1M961.2 509.9L965.8 509.9M971.7 505.2L968.7 510.9M974 505.2L971 510.9M976.3 505.2L973.3 510.9" stroke-width="1.5"/>
<path d="M789 499L922 479M801 503.5L923 484" stroke-width="1.3"/>
<path d="M942 439.5L1054 439.5L1054 443.5L942 445.5Z" stroke-width="1.2" style="fill:#fff"/>
<circle cx="952.5" cy="476.7" r="28.5" stroke-width="1.8" style="fill:#fff"/>
<circle cx="952.5" cy="476.7" r="25.3" stroke-width="1.6" style="fill:none"/>
<circle cx="952.5" cy="476.7" r="5" stroke-width="1.6" style="fill:none"/>
<path d="M943 434L949 449" stroke-width="1.4"/>
<text class="t" x="910" y="475.5" font-size="11.5" text-anchor="middle">ϕ16</text>
<path d="M893 476L901 470" stroke-width="1.3"/>
<text class="t" x="838" y="424" font-size="12.5" text-anchor="middle" textLength="39" lengthAdjust="spacing">16/20</text>
<path d="M829 429L829 503" stroke-width="1.4"/>
<path d="M831 435L829 429L827 435" stroke-width="1.7"/>
<text class="t" x="835" y="467" font-size="15" text-anchor="middle" transform="rotate(-90 835 467)">1.05</text>
<path d="M786 430L772 503" stroke-width="1.6"/>
<path d="M790 430L777 503" stroke-width="1.6"/>
<circle cx="765" cy="415" r="8" stroke-width="1.6" style="fill:white"/>
<text class="n" x="765" y="419.3" font-size="12" text-anchor="middle">2</text>
<path d="M773 418L787 421" stroke-width="1.3"/>
<circle cx="762.5" cy="442" r="8" stroke-width="1.6" style="fill:white"/>
<text class="n" x="762.5" y="446.3" font-size="12" text-anchor="middle">9</text>
<path d="M770 447L785 453" stroke-width="1.3"/>
<circle cx="758.5" cy="486.5" r="8" stroke-width="1.6" style="fill:white"/>
<text class="n" x="758.5" y="490.1" font-size="10" text-anchor="middle">10</text>
<path d="M765 492L775 500" stroke-width="1.3"/>
<path d="M987 411L987 427" stroke-width="1.5"/>
<path d="M987 426L1066 426" stroke-width="1.5"/>
<path d="M987 429L1066 429" stroke-width="1.4"/>
<rect x="1064" y="426" width="5" height="35" style="fill:#444;stroke:#111;stroke-width:1"/>
<path d="M982 461L1069 461" stroke-width="1.6"/>
<rect x="983" y="461" width="6" height="42" style="fill:#fff;stroke:#111;stroke-width:1"/>
<path d="M989.2 420L992.2 414.8M991.5 420L994.5 414.8M993.8 420L996.8 414.8M1000.7 419.2L1005.3 419.2M1000.7 417.4L1005.3 417.4M1000.7 415.6L1005.3 415.6M1009.2 420L1012.2 414.8M1011.5 420L1014.5 414.8M1013.8 420L1016.8 414.8M1020.7 419.2L1025.3 419.2M1020.7 417.4L1025.3 417.4M1020.7 415.6L1025.3 415.6M1029.2 420L1032.2 414.8M1031.5 420L1034.5 414.8M1033.8 420L1036.8 414.8M1040.7 419.2L1045.3 419.2M1040.7 417.4L1045.3 417.4M1040.7 415.6L1045.3 415.6M1049.2 420L1052.2 414.8M1051.5 420L1054.5 414.8M1053.8 420L1056.8 414.8M1060.7 419.2L1065.3 419.2M1060.7 417.4L1065.3 417.4M1060.7 415.6L1065.3 415.6M1069.2 420L1072.2 414.8M1071.5 420L1074.5 414.8M1073.8 420L1076.8 414.8" stroke-width="1.7"/>
<path d="M996.2 463L993.2 468.8M998.5 463L995.5 468.8M1000.8 463L997.8 468.8M1004.7 464.1L1009.3 464.1M1004.7 465.9L1009.3 465.9M1004.7 467.7L1009.3 467.7M1016.2 463L1013.2 468.8M1018.5 463L1015.5 468.8M1020.8 463L1017.8 468.8M1024.7 464.1L1029.3 464.1M1024.7 465.9L1029.3 465.9M1024.7 467.7L1029.3 467.7M1036.2 463L1033.2 468.8M1038.5 463L1035.5 468.8M1040.8 463L1037.8 468.8M1044.7 464.1L1049.3 464.1M1044.7 465.9L1049.3 465.9M1044.7 467.7L1049.3 467.7M1056.2 463L1053.2 468.8M1058.5 463L1055.5 468.8M1060.8 463L1057.8 468.8M1064.7 464.1L1069.3 464.1M1064.7 465.9L1069.3 465.9M1064.7 467.7L1069.3 467.7" stroke-width="1.7"/>
<path d="M1071.5 428.7L1077.2 431.7M1071.5 431L1077.2 434M1071.5 433.3L1077.2 436.3M1072.6 439.2L1072.6 443.8M1074.4 439.2L1074.4 443.8M1076.2 439.2L1076.2 443.8M1071.5 446.7L1077.2 449.7M1071.5 449L1077.2 452M1071.5 451.3L1077.2 454.3M1072.6 457.2L1072.6 461.8M1074.4 457.2L1074.4 461.8M1076.2 457.2L1076.2 461.8" stroke-width="1.7"/>
<path d="M991.2 463.7L997 466.7M991.2 466L997 469M991.2 468.3L997 471.3M992.3 474.2L992.3 478.8M994.1 474.2L994.1 478.8M995.9 474.2L995.9 478.8M991.2 481.7L997 484.7M991.2 484L997 487M991.2 486.3L997 489.3M992.3 492.2L992.3 496.8M994.1 492.2L994.1 496.8M995.9 492.2L995.9 496.8" stroke-width="1.7"/>
<path d="M988.2 396.7L994 399.7M988.2 399L994 402M988.2 401.3L994 404.3M989.3 407.2L989.3 411.8M991.1 407.2L991.1 411.8M992.9 407.2L992.9 411.8M988.2 414.7L994 417.7M988.2 417L994 420M988.2 419.3L994 422.3" stroke-width="1.7"/>
<circle cx="976.5" cy="360" r="8.5" stroke-width="1.6" style="fill:white"/>
<text class="n" x="976.5" y="364.7" font-size="13" text-anchor="middle">4</text>
<path d="M978 368.5L985 392" stroke-width="1.3"/>
<text class="t" x="1021" y="406" font-size="15" text-anchor="start" textLength="72" lengthAdjust="spacingAndGlyphs">Dachpappe</text>
<path d="M990 399L1018 399" stroke-width="1.3"/>
<path d="M1041 408L1022 426" stroke-width="1.3"/>
<circle cx="927.5" cy="421.5" r="8" stroke-width="1.6" style="fill:white"/>
<text class="n" x="927.5" y="425.8" font-size="12" text-anchor="middle">3</text>
<circle cx="1017.5" cy="480.5" r="8.5" stroke-width="1.6" style="fill:white"/>
<text class="n" x="1017.5" y="485.2" font-size="13" text-anchor="middle">8</text>
<path d="M1017.5 472L1017 463" stroke-width="1.3"/>
<circle cx="1007" cy="501" r="8.5" stroke-width="1.6" style="fill:white"/>
<text class="n" x="1007" y="505.7" font-size="13" text-anchor="middle">7</text>
<path d="M998.5 500L991 497" stroke-width="1.3"/>
<circle cx="928" cy="522" r="8.5" stroke-width="1.6" style="fill:white"/>
<text class="n" x="928" y="526.7" font-size="13" text-anchor="middle">1</text>
<path d="M921 518L891 506" stroke-width="1.3"/>
<path d="M935 518L965 506" stroke-width="1.3"/>
<circle cx="811" cy="532" r="8" stroke-width="1.6" style="fill:white"/>
<text class="n" x="811" y="536" font-size="11" text-anchor="middle">12</text>
<path d="M794 507L794 565" stroke-width="1.4" stroke-dasharray="5 3.5"/>
<path d="M804 507L804 565" stroke-width="1.4" stroke-dasharray="5 3.5"/>
<path d="M880.5 507L880.5 565" stroke-width="1.4" stroke-dasharray="5 3.5"/>
<path d="M894 507L894 565" stroke-width="1.4" stroke-dasharray="5 3.5"/>
<path d="M969 507L969 565" stroke-width="1.4" stroke-dasharray="5 3.5"/>
<path d="M983 507L983 565" stroke-width="1.4" stroke-dasharray="5 3.5"/>
<path d="M880.5 565L887 576L894 565M969 565L976 576L983 565" stroke-width="1.4" stroke-dasharray="3 2"/>
<path d="M789 508.7L794.2 511.7M789 511L794.2 514M789 513.3L794.2 516.3M789.8 519.2L789.8 523.8M791.6 519.2L791.6 523.8M793.4 519.2L793.4 523.8M789 526.7L794.2 529.7M789 529L794.2 532M789 531.3L794.2 534.3M789.8 537.2L789.8 541.8M791.6 537.2L791.6 541.8M793.4 537.2L793.4 541.8M789 544.7L794.2 547.7M789 547L794.2 550M789 549.3L794.2 552.3M789.8 555.2L789.8 559.8M791.6 555.2L791.6 559.8M793.4 555.2L793.4 559.8M789 562.7L794.2 565.7M789 565L794.2 568M789 567.3L794.2 570.3M789.8 573.2L789.8 577.8M791.6 573.2L791.6 577.8M793.4 573.2L793.4 577.8" stroke-width="1.7"/>
<path d="M830 515.2L835.2 518.2M830 517.5L835.2 520.5M830 519.8L835.2 522.8M830.8 524.7L830.8 529.3M832.6 524.7L832.6 529.3M834.4 524.7L834.4 529.3M830 531.2L835.2 534.2M830 533.5L835.2 536.5M830 535.8L835.2 538.8M830.8 540.7L830.8 545.3M832.6 540.7L832.6 545.3M834.4 540.7L834.4 545.3M830 547.2L835.2 550.2M830 549.5L835.2 552.5M830 551.8L835.2 554.8" stroke-width="1.7"/>
<path d="M801.7 563L798.7 568.2M804 563L801 568.2M806.3 563L803.3 568.2M809.2 563.8L813.8 563.8M809.2 565.6L813.8 565.6M809.2 567.4L813.8 567.4M819.7 563L816.7 568.2M822 563L819 568.2M824.3 563L821.3 568.2M827.2 563.8L831.8 563.8M827.2 565.6L831.8 565.6M827.2 567.4L831.8 567.4" stroke-width="1.7"/>
<path d="M828 558L862 558" stroke-width="1.4"/>
<path d="M855 505L855 558" stroke-width="1.4"/>
<path d="M853 552L855 558L857 552" stroke-width="1.7"/>
<text class="t" x="860" y="528" font-size="13" text-anchor="middle" transform="rotate(-90 860 528)">0.60</text>
<path d="M1066 427.5L1116 427.5" stroke-width="1.4"/>
<path d="M1069 461L1116 461" stroke-width="1.4"/>
<path d="M1064 501L1116 501" stroke-width="1.4"/>
<path d="M1064 504.5L1116 504.5" stroke-width="1.4"/>
<path d="M978 570.5L1115 570.5" stroke-width="1.4"/>
<path d="M1107.5 427.5L1107.5 570.5" stroke-width="1.4"/>
<path d="M1105.5 564.5L1107.5 570.5L1109.5 564.5" stroke-width="1.7"/>
<rect x="1101" y="431" width="13" height="27" style="fill:#fff;stroke:none"/>
<rect x="1101" y="467" width="13" height="30" style="fill:#fff;stroke:none"/>
<rect x="1101" y="519" width="13" height="36" style="fill:#fff;stroke:none"/>
<text class="t" x="1112" y="445" font-size="13" text-anchor="middle" transform="rotate(-90 1112 445)">0.48</text>
<text class="t" x="1112" y="482" font-size="13" text-anchor="middle" transform="rotate(-90 1112 482)">0.52</text>
<text class="t" x="1112" y="537" font-size="13" text-anchor="middle" transform="rotate(-90 1112 537)">0.90</text>
<text class="h" x="1119" y="503" font-size="10" text-anchor="start">0,05</text>
<text class="h" x="1155" y="503" font-size="13" text-anchor="start" textLength="41" lengthAdjust="spacingAndGlyphs">Gefälle</text>
<path d="M47.5 410L47.5 648" stroke-width="1.6"/>
<path d="M389 432L389 648" stroke-width="1.6"/>
<path d="M765.5 505L765.5 648" stroke-width="1.6"/>
<path d="M792 505L792 648" stroke-width="1.6"/>
<path d="M989 461L989 648" stroke-width="1.6"/>
<path d="M1070 461L1070 648" stroke-width="1.6"/>
<path d="M48 629L180 629" stroke-width="1.4"/>
<path d="M260 629L388 629" stroke-width="1.4"/>
<path d="M56 626.5L48 629L56 631.5" stroke-width="1.7"/>
<path d="M380 631.5L388 629L380 626.5" stroke-width="1.7"/>
<text class="t" x="218.5" y="636" font-size="20" text-anchor="middle" letter-spacing="3">4.25</text>
<path d="M390 629L553 629" stroke-width="1.4"/>
<path d="M634 629L764 629" stroke-width="1.4"/>
<path d="M398 626.5L390 629L398 631.5" stroke-width="1.7"/>
<path d="M756 631.5L764 629L756 626.5" stroke-width="1.7"/>
<text class="t" x="592" y="636" font-size="20" text-anchor="middle" letter-spacing="3">4.70</text>
<text class="t" x="778" y="629.5" font-size="10" text-anchor="middle">0.30</text>
<path d="M793 625.5L865 625.5" stroke-width="1.4"/>
<path d="M930 625.5L988 625.5" stroke-width="1.4"/>
<path d="M801 623L793 625.5L801 628" stroke-width="1.7"/>
<path d="M980 628L988 625.5L980 623" stroke-width="1.7"/>
<text class="t" x="898" y="632.5" font-size="20" text-anchor="middle" letter-spacing="3">2.46</text>
<path d="M990 625.5L1004 625.5" stroke-width="1.4"/>
<path d="M1046 625.5L1069 625.5" stroke-width="1.4"/>
<path d="M997 623.3L990 625.5L997 627.7" stroke-width="1.7"/>
<path d="M1062 627.7L1069 625.5L1062 623.3" stroke-width="1.7"/>
<text class="t" x="1024" y="630.5" font-size="15" text-anchor="middle" letter-spacing="1.5">1.00</text>
<text class="ht2" x="660" y="689.5" font-size="35" textLength="131" lengthAdjust="spacing">Schnitt</text>
<text class="ht2" x="804" y="689.5" font-size="35" textLength="23" lengthAdjust="spacing">C</text>
<text class="ht2" x="834" y="689.5" font-size="35" textLength="11" lengthAdjust="spacing">-</text>
<text class="ht2" x="857" y="689.5" font-size="35" textLength="28" lengthAdjust="spacing">D</text>
<path d="M651 694.5L886 694.5" stroke-width="2.5"/>
<path d="M100 778C108.5 777.6 126.3 776 151 775.5C175.7 775 228.5 776.5 248 775C267.5 773.5 261.2 769.7 268 766.5C274.8 763.3 282.3 758.1 289 755.7C295.7 753.3 301.2 752 308 752C314.8 752 324 754 330 755.7C336 757.5 338.2 759.1 344 762.5C349.8 765.9 357.3 774.2 364.6 776.3C371.9 778.4 373.8 775 388 775C402.2 775 430.2 775.5 450 776C469.8 776.5 489.7 777 507 778C524.3 779 531.8 781 554 782C576.2 783 605.7 783.8 640 784C674.3 784.2 716.7 783.2 760 783C803.3 782.8 860 782.8 900 782.5C940 782.2 976.8 782.1 1000 781C1023.2 779.9 1027.3 779.8 1039 776C1050.7 772.2 1059 763.6 1070 758C1081 752.4 1093.3 743.5 1105 742.5C1116.7 741.5 1127.5 747.8 1140 752C1152.5 756.2 1166.7 763.5 1180 768C1193.3 772.5 1204.8 776.2 1220 779C1235.2 781.8 1262.5 784 1271 785" stroke-width="2.3"/>
<path d="M104.5 779.7L101.9 786.2M106.8 779.6L104.2 786.1M109.1 779.4L106.5 785.9M113.6 780.5L118.2 780.2M113.7 782.3L118.3 782M113.8 784.1L118.4 783.8M125.5 778.4L122.8 784.9M127.8 778.3L125.1 784.8M130.1 778.2L127.4 784.7M134.5 779.4L139.1 779.2M134.6 781.2L139.2 781M134.7 783L139.2 782.8M146.4 777.6L143.6 784M148.7 777.6L145.9 783.9M151 777.5L148.2 783.9M155.4 778.8L160 778.8M155.4 780.6L160 780.6M155.4 782.4L160 782.4M167.4 777.4L164.4 783.7M169.7 777.4L166.7 783.7M172 777.4L169 783.7M176.4 778.8L181 778.8M176.4 780.6L181 780.6M176.3 782.4L180.9 782.4M188.4 777.5L185.3 783.8M190.7 777.5L187.6 783.8M193 777.6L189.9 783.9M197.4 779L202 779M197.3 780.8L201.9 780.8M197.3 782.6L201.9 782.6M209.4 777.7L206.4 784M211.7 777.7L208.7 784M214 777.7L211 784M218.4 779L223 779M218.4 780.8L223 780.8M218.4 782.6L223 782.6M230.4 777.6L227.5 784M232.7 777.6L229.8 783.9M235 777.5L232.1 783.9M239.5 778.8L244.1 778.6M239.6 780.6L244.2 780.4M239.6 782.4L244.2 782.2M251.5 776.7L249.4 783.3M253.8 776.4L251.6 783M256.1 776.1L253.9 782.8M262.1 776L265.8 773.2M263.2 777.4L266.9 774.6M264.3 778.8L268 776M270.2 767.6L270.4 774.6M272.3 766.5L272.5 773.5M274.3 765.5L274.5 772.5M278.8 764.4L282.8 762.2M279.7 766L283.7 763.8M280.6 767.6L284.6 765.3M288.7 757.9L288.1 764.9M290.8 757.1L290.3 764.1M293 756.3L292.4 763.3M297.2 756.6L301.8 755.7M297.6 758.4L302.1 757.5M297.9 760.1L302.4 759.3M308.5 754L305.2 760.2M310.8 754.1L307.5 760.3M313.1 754.2L309.8 760.4M317 756.2L321.6 757M316.7 757.9L321.2 758.8M316.4 759.7L320.9 760.6M328.8 757.4L324.1 762.6M331 758.1L326.3 763.3M333.2 758.7L328.5 763.9M336.2 761.7L340.2 764M335.3 763.2L339.3 765.6M334.4 764.8L338.3 767.1M346.8 766.8L340.6 770M348.7 768.2L342.4 771.4M350.5 769.7L344.2 772.8M353.1 773.7L356.9 776.3M352.1 775.1L355.9 777.8M351.1 776.6L354.9 779.2M365 778.5L360.9 784.2M367.3 778.9L363.2 784.6M369.5 779.3L365.5 785M374.6 779.7L379.2 778.9M374.9 781.4L379.5 780.7M375.2 783.2L379.8 782.5M386.1 777L383.2 783.4M388.4 777L385.5 783.4M390.7 777L387.8 783.3M395.1 778.4L399.7 778.4M395 780.2L399.6 780.2M395 782L399.6 782M407.1 777.1L404 783.4M409.4 777.2L406.3 783.5M411.7 777.2L408.6 783.5M416 778.6L420.6 778.7M416 780.4L420.6 780.5M416 782.2L420.6 782.3M428.1 777.5L424.9 783.8M430.4 777.5L427.2 783.8M432.7 777.6L429.5 783.9M437 779.1L441.6 779.2M437 780.9L441.6 781M436.9 782.7L441.5 782.8M449 778L445.9 784.2M451.3 778L448.2 784.3M453.6 778.1L450.5 784.3M458 779.6L462.6 779.7M458 781.4L462.6 781.5M457.9 783.2L462.5 783.3M470 778.5L466.8 784.8M472.3 778.6L469.1 784.8M474.6 778.7L471.4 784.9M479 780.2L483.6 780.3M478.9 782L483.5 782.1M478.9 783.8L483.4 783.9M491 779.2L487.7 785.4M493.3 779.3L490 785.5M495.6 779.4L492.3 785.6M499.9 781L504.5 781.2M499.8 782.8L504.4 783M499.7 784.6L504.3 784.8M511.9 780.3L508.5 786.4M514.2 780.5L510.8 786.6M516.5 780.7L513 786.8M520.7 782.5L525.3 783M520.5 784.3L525.1 784.8M520.3 786.1L524.9 786.6M532.8 782.4L529.1 788.4M535.1 782.7L531.4 788.7M537.3 782.9L533.7 788.9M541.7 784.6L546.3 784.9M541.6 786.4L546.1 786.7M541.4 788.2L546 788.5M553.8 784L550.5 790.2M556.1 784.1L552.8 790.3M558.4 784.2L555.1 790.4M562.7 785.7L567.3 785.9M562.7 787.5L567.3 787.7M562.6 789.3L567.2 789.5M574.8 784.8L571.6 791M577.1 784.9L573.9 791.1M579.4 785L576.2 791.2M583.8 786.4L588.4 786.6M583.7 788.2L588.3 788.4M583.7 790L588.3 790.2M595.8 785.4L592.7 791.6M598.1 785.4L595 791.7M600.4 785.5L597.3 791.8M604.8 786.9L609.4 787M604.7 788.7L609.3 788.8M604.7 790.5L609.3 790.6M616.8 785.8L613.7 792.1M619.1 785.8L616 792.1M621.4 785.8L618.3 792.1M625.8 787.3L630.4 787.3M625.8 789.1L630.4 789.1M625.8 790.9L630.4 790.9M637.8 786L634.8 792.3M640.1 786L637.1 792.3M642.4 786L639.4 792.3M646.8 787.4L651.4 787.4M646.8 789.2L651.4 789.2M646.8 791L651.4 791M658.8 786L655.9 792.3M661.1 786L658.2 792.3M663.4 786L660.5 792.3M667.9 787.3L672.5 787.3M667.9 789.1L672.5 789.1M667.9 790.9L672.5 790.9M679.8 785.8L676.9 792.2M682.1 785.8L679.2 792.2M684.4 785.8L681.5 792.1M688.9 787.1L693.5 787.1M688.9 788.9L693.5 788.9M688.9 790.7L693.5 790.7M700.8 785.6L697.9 792M703.1 785.6L700.2 791.9M705.4 785.6L702.5 791.9M709.9 786.9L714.5 786.8M709.9 788.7L714.5 788.6M709.9 790.5L714.5 790.4M721.8 785.4L718.9 791.7M724.1 785.3L721.2 791.7M726.4 785.3L723.5 791.7M730.9 786.6L735.5 786.6M730.9 788.4L735.5 788.4M730.9 790.2L735.5 790.2M742.8 785.1L739.9 791.5M745.1 785.1L742.2 791.5M747.4 785.1L744.5 791.4M751.8 786.4L756.4 786.4M751.9 788.2L756.5 788.2M751.9 790L756.5 790M763.8 785L760.9 791.3M766.1 785L763.2 791.3M768.4 785L765.5 791.3M772.8 786.3L777.4 786.3M772.8 788.1L777.4 788.1M772.9 789.9L777.5 789.9M784.8 784.9L781.9 791.2M787.1 784.9L784.2 791.2M789.4 784.9L786.5 791.2M793.8 786.2L798.4 786.2M793.8 788L798.4 788M793.8 789.8L798.4 789.8M805.8 784.8L802.8 791.2M808.1 784.8L805.1 791.2M810.4 784.8L807.4 791.2M814.8 786.2L819.4 786.2M814.8 788L819.4 788M814.8 789.8L819.4 789.8M826.8 784.8L823.8 791.1M829.1 784.8L826.1 791.1M831.4 784.8L828.4 791.1M835.8 786.1L840.4 786.1M835.8 787.9L840.4 787.9M835.8 789.7L840.4 789.7M847.8 784.7L844.8 791.1M850.1 784.7L847.1 791.1M852.4 784.7L849.4 791.1M856.8 786.1L861.4 786.1M856.8 787.9L861.4 787.9M856.8 789.7L861.4 789.7M868.8 784.7L865.9 791M871.1 784.7L868.2 791M873.4 784.7L870.5 791M877.8 786L882.4 786M877.9 787.8L882.5 787.8M877.9 789.6L882.5 789.6M889.8 784.6L886.9 790.9M892.1 784.6L889.2 790.9M894.4 784.5L891.5 790.9M898.8 785.9L903.4 785.8M898.9 787.7L903.5 787.6M898.9 789.5L903.5 789.4M910.8 784.4L907.9 790.8M913.1 784.4L910.2 790.7M915.4 784.4L912.5 790.7M919.8 785.7L924.4 785.7M919.9 787.5L924.5 787.5M919.9 789.3L924.5 789.3M931.8 784.3L928.9 790.6M934.1 784.2L931.2 790.6M936.4 784.2L933.5 790.6M940.9 785.5L945.5 785.5M940.9 787.3L945.5 787.3M940.9 789.1L945.5 789.1M952.8 784.1L949.9 790.4M955.1 784L952.2 790.4M957.4 784L954.5 790.4M961.9 785.3L966.5 785.3M961.9 787.1L966.5 787.1M961.9 788.9L966.5 788.9M973.9 783.8L971 790.2M976.2 783.7L973.3 790.1M978.5 783.7L975.6 790.1M982.9 784.9L987.5 784.8M982.9 786.7L987.5 786.6M983 788.5L987.6 788.4M994.9 783.2L992.2 789.7M997.2 783.1L994.4 789.6M999.5 783L996.7 789.5M1003.9 784.2L1008.5 784M1004 786L1008.6 785.8M1004.1 787.8L1008.7 787.6M1015.9 782.2L1013.3 788.7M1018.2 782.1L1015.6 788.6M1020.5 781.9L1017.9 788.4M1025.2 782.8L1029.7 782M1025.5 784.5L1030 783.8M1025.8 786.3L1030.3 785.6M1036.9 778.7L1036 785.7M1039.1 778L1038.2 785M1041.3 777.3L1040.4 784.3M1046.2 776.6L1050.3 774.5M1047 778.2L1051.1 776.1M1047.9 779.8L1051.9 777.7M1056 769.1L1057 776.1M1057.9 767.9L1058.9 774.8M1059.8 766.6L1060.8 773.5M1064 765.3L1068 762.9M1065 766.8L1068.9 764.4M1065.9 768.3L1069.8 765.9M1073.7 758.2L1074.1 765.2M1075.7 757.1L1076.1 764.1M1077.7 756L1078.1 763M1082.2 755L1086.2 752.8M1083.1 756.6L1087.1 754.4M1083.9 758.2L1088 756M1092.1 748.3L1091.8 755.3M1094.2 747.4L1093.9 754.4M1096.3 746.5L1096 753.5M1100.5 746.7L1105 745.8M1100.8 748.4L1105.3 747.5M1101.2 750.2L1105.7 749.3M1111.6 744.7L1107.7 750.5M1113.9 745L1110 750.8M1116.1 745.4L1112.2 751.2M1119.6 747.9L1124 749.4M1119 749.6L1123.4 751.1M1118.4 751.3L1122.7 752.8M1131.3 750.8L1126.2 755.6M1133.4 751.7L1128.3 756.5M1135.5 752.5L1130.4 757.3M1139.3 755.2L1143.6 756.8M1138.6 756.9L1142.9 758.5M1138 758.6L1142.3 760.2M1150.9 758.3L1145.6 762.9M1153 759.2L1147.8 763.8M1155.1 760.1L1149.9 764.7M1158.6 763.1L1162.8 764.9M1157.9 764.7L1162.1 766.5M1157.2 766.4L1161.4 768.2M1170.2 766.5L1165.1 771.2M1172.4 767.3L1167.2 772.1M1174.5 768.2L1169.4 772.9M1178.3 770.9L1182.7 772.4M1177.7 772.7L1182.1 774.1M1177.1 774.4L1181.5 775.8M1190.2 773.4L1185.4 778.5M1192.3 774.1L1187.6 779.2M1194.5 774.8L1189.8 779.9M1198.4 777.4L1202.9 778.6M1198 779.1L1202.4 780.3M1197.5 780.8L1201.9 782.1M1210.5 779.1L1206.2 784.5M1212.7 779.6L1208.4 785.1M1215 780.1L1210.6 785.6M1219.2 782.3L1223.7 783.1M1218.8 784L1223.4 784.8M1218.5 785.8L1223.1 786.6M1231.3 782.8L1227.5 788.6M1233.6 783.1L1229.8 788.9M1235.9 783.4L1232.1 789.2M1240.1 785.2L1244.7 785.7M1239.9 787L1244.5 787.5M1239.7 788.8L1244.3 789.3M1252.2 785.1L1248.6 791.1M1254.5 785.4L1250.9 791.4M1256.8 785.6L1253.2 791.6M1261 787.4L1265.6 787.8M1260.9 789.2L1265.5 789.6M1260.7 790.9L1265.3 791.4" stroke-width="1.5"/>
<path d="M749 782C751.7 779.2 759 770.3 765 765C771 759.7 778.3 753.4 785 750C791.7 746.6 794.2 745.8 805 744.5C815.8 743.2 817.5 742.9 850 742.5C882.5 742.1 958.3 742.1 1000 742C1041.7 741.9 1083.3 742 1100 742" stroke-width="1.8"/>
<path d="M983 711.5L1092 711.5L1092 717L983 718Z" stroke-width="1.3" style="fill:#fff"/>
<path d="M981 706L984 724" stroke-width="1.7"/>
<circle cx="988.5" cy="753.5" r="33" stroke-width="2.1" style="fill:#fff"/>
<circle cx="988.5" cy="753.5" r="29" stroke-width="1.7" style="fill:none"/>
<circle cx="988.5" cy="753.5" r="6" stroke-width="1.7" style="fill:none"/>
<path d="M819 767L956 751.5M826 774L957 758" stroke-width="1.3"/>
<path d="M819 767C818 772 826 778 834 779L826 774" stroke-width="1.5"/>
<text class="ht2" x="708" y="912" font-size="37" textLength="160" lengthAdjust="spacing">Grundriß</text>
<path d="M697 916.5L878 916.5" stroke-width="2.5"/>
<path d="M126.5 1258.5C126.8 1255.4 127.4 1246.2 128.5 1240C129.6 1233.8 129.4 1229.8 133 1221.6C136.6 1213.4 142.8 1201.5 150 1191C157.2 1180.5 167 1168.4 176.5 1158.5C186 1148.6 194.9 1139.4 207 1131.7C219.1 1124 231.2 1118 249 1112.6C266.8 1107.1 291 1104.1 314 1099C337 1093.9 358.9 1088.3 387 1082C415.1 1075.7 447.5 1068.2 482.5 1061C517.5 1053.8 570.1 1044.7 597 1039C623.9 1033.3 630.8 1030.2 644 1027C657.2 1023.8 661 1021.8 676 1020C691 1018.2 716.3 1017.3 734 1016C751.7 1014.7 767.5 1012.3 782 1012C796.5 1011.7 804.3 1013.4 821 1014C837.7 1014.6 863.2 1013.7 882 1015.5C900.8 1017.3 919.6 1021.6 933.5 1025C947.4 1028.4 955.9 1032.2 965.6 1036C975.4 1039.8 981.9 1043.3 992 1048C1002.1 1052.7 1017.2 1059.2 1026 1064C1034.8 1068.8 1037.4 1070 1045 1077C1052.6 1084 1063.2 1097.2 1071.5 1106C1079.8 1114.8 1088.8 1122.5 1095 1130C1101.2 1137.5 1105.1 1143.9 1108.7 1151C1112.3 1158.1 1114.2 1164 1116.6 1172.5C1119 1181 1121.4 1190.4 1123 1202C1124.6 1213.6 1125.5 1235.3 1126 1242" stroke-width="3"/>
<path d="M127 1252.5L115.1 1251.5M128.4 1240.6L122.7 1239.7M130.4 1228.8L118.8 1225.7M134.8 1217.6L129.6 1215.2M140.3 1206.9L128 1200.2M146.3 1196.6L140.4 1192.8M153.1 1186.7L140.7 1177.6M160.3 1177.1L154.3 1172.3M168 1167.9L155.3 1156.8M176 1159L169.9 1153.2M184.4 1150.4L171.4 1137.3M193.1 1142.2L187.1 1135.2M202.5 1134.7L190.6 1118.3M212.7 1128.3L207.5 1119.4M223.2 1122.6L213.3 1102.6M234.2 1117.7L230.1 1107.3M245.5 1113.7L237.8 1090.4M257 1110.4L254.1 1098.4M268.7 1107.8L263.4 1081.4M280.5 1105.5L278.1 1092.3M292.3 1103.3L287 1074.6M304.1 1101.1L301.3 1086.7M315.9 1098.6L309 1067.8M327.6 1095.9L324 1080.6M339.2 1093.2L331.4 1060.2M350.9 1090.4L347 1074M362.6 1087.6L354.3 1052.3M374.3 1084.9L370.2 1067.4M386 1082.2L377.4 1044.6M397.7 1079.6L393.5 1061M409.4 1076.9L400.3 1037M421.1 1074.3L416.7 1054.6M432.8 1071.7L423.4 1029.4M444.5 1069.1L440 1048.2M456.2 1066.5L446.6 1021.9M468 1064L463.3 1042M479.7 1061.6L470 1014.6M491.5 1059.2L486.9 1036.1M503.3 1056.9L493.7 1007.8M515 1054.6L510.6 1031.1M526.8 1052.4L517.6 1003.3M538.6 1050.2L534.2 1026.6M550.4 1048L541.3 998.9M562.2 1045.8L557.8 1022.2M574 1043.6L564.6 994.5M585.8 1041.3L581.1 1017.7M597.6 1038.9L587.1 990M609.3 1036.3L603.8 1012.9M620.9 1033.4L607.9 985.1M632.5 1030.1L625.8 1007.1M644 1027L632.1 978.4M655.7 1024L649.4 1000.8M667.3 1021.3L658.7 972M679.2 1019.6L676.9 995.8M691.2 1018.6L687.6 968.8M703.2 1017.9L701.7 993.9M715.1 1017.2L712.3 967.3M727.1 1016.5L725.5 992.5M739.1 1015.6L734.8 965.8M751 1014.4L748.6 990.6M763 1013.3L758.3 963.5M774.9 1012.3L773.5 988.3M786.9 1012L787 962M798.9 1012.5L800.8 988.6M810.9 1013.5L814.3 963.6M822.9 1014.1L823.6 990.1M834.9 1014.2L835.2 964.2M846.9 1014.3L847 990.3M858.9 1014.4L859.9 964.4M870.9 1014.7L872.1 990.8M882.8 1015.6L888.1 965.9M894.7 1017.1L898.2 993.3M906.6 1019.1L915.9 970M918.3 1021.5L923.4 998M930 1024.2L941.7 975.5M941.6 1027.2L948.5 1004.2M953 1031L970.3 984.1M964.2 1035.4L973 1013.1M975.2 1040.1L995.8 994.5M986.1 1045.2L996.4 1023.5M996.9 1050.3L1017.6 1004.7M1007.9 1055.2L1018 1033.1M1018.7 1060.3L1041.3 1014.2M1029.4 1065.8L1041.4 1043.9M1039.5 1072.3L1072.2 1030.8M1048.4 1080.3L1066.8 1062.5M1056.5 1089.2L1097 1053.5M1064.4 1098.2L1084.1 1080.9M1072.5 1107L1112.3 1069M1081 1115.5L1099.6 1096.4M1089.5 1124L1129.8 1084.7M1097.4 1133L1119 1116.4M1104.2 1142.9L1152.8 1113.2M1109.9 1153.4L1134.6 1141.6M1114.3 1164.6L1168.5 1147.1M1117.6 1176.1L1144 1169M1120.5 1187.8L1176.1 1175.4M1122.7 1199.6L1149.7 1195.4M1124 1211.5L1180.8 1206.5M1124.9 1223.5L1152.2 1221.7M1125.6 1235.4L1182.5 1232.1" stroke-width="1.7"/>
<path d="M126.5 1258.5C132.9 1258 149.4 1256.9 165 1255.6C180.6 1254.3 201.7 1253 220 1250.6C238.3 1248.2 256.7 1243.8 275 1241C293.3 1238.2 311.6 1235.8 330 1234C348.4 1232.2 371.7 1231.9 385.5 1230.5C399.3 1229.1 399.2 1227.6 413 1225.8C426.8 1224 453.1 1221.4 468 1219.8C482.9 1218.2 486.4 1218.2 502.7 1216.4C519 1214.6 544.6 1211.5 565.5 1209C586.4 1206.5 607.1 1204.1 628 1201.4C648.9 1198.7 670 1195.1 691 1192.6C712 1190.1 735.4 1187.9 753.7 1186.3C772 1184.7 790.2 1183.6 800.7 1183.2C811.2 1182.8 811.7 1182.5 816.4 1184C821.1 1185.5 826.1 1188.1 829 1192C831.9 1195.9 832.9 1199.3 833.7 1207.6C834.5 1215.9 834 1236.3 834 1242" stroke-width="2.5"/>
<path d="M126.5 1258.5C142.1 1259 186.1 1261 220 1261.5C253.9 1262 297.8 1262 330 1261.8C362.2 1261.6 393.5 1260.5 413 1260.2C432.5 1259.9 441.3 1260 447 1260" stroke-width="2.1"/>
<path d="M131.5 1258.1L131.5 1257.5M141.5 1257.4L141.5 1257.5M151.4 1256.7L151.4 1257.5M161.4 1255.9L161.4 1256.7M171.4 1255.1L171.4 1257.5M181.3 1254.3L181.3 1255.9M191.3 1253.5L191.3 1257.5M201.3 1252.7L201.3 1255.1M211.2 1251.7L211.2 1257.5M221.1 1250.4L221.1 1254M231 1248.9L231 1257.5M240.9 1247.2L240.9 1252.3M250.7 1245.3L250.7 1257.5M260.5 1243.5L260.5 1250.5M270.4 1241.7L270.4 1257.5M280.3 1240.2L280.3 1248.9M290.2 1238.8L290.2 1257.5M300.1 1237.4L300.1 1247.5M310 1236.2L310 1257.5M319.9 1235L319.9 1246.3M329.9 1234L329.9 1257.5M339.8 1233.2L339.8 1245.4M349.8 1232.6L349.8 1257.5M359.8 1232.1L359.8 1244.8M369.8 1231.6L369.8 1257.5M379.8 1231L379.8 1244.2M389.7 1230L389.7 1257.5M399.6 1228.2L399.6 1242.9M409.4 1226.3L409.4 1257.5M419.3 1225L419.3 1241.3M429.2 1223.9L429.2 1257.5M439.2 1222.8L439.2 1240.2M449.1 1221.8L449.1 1244M459.1 1220.7L459.1 1232.3M469 1219.7L469 1243.6M479 1218.7L479 1231.1M488.9 1217.8L488.9 1243.3M498.9 1216.8L498.9 1230M508.8 1215.7L508.8 1242.9M518.7 1214.6L518.7 1228.7M528.7 1213.4L528.7 1242.6M538.6 1212.2L538.6 1227.3M548.5 1211L548.5 1242.3M558.5 1209.8L558.5 1226M568.4 1208.7L568.4 1241.9M578.3 1207.5L578.3 1224.6M588.2 1206.3L588.2 1241.6M598.2 1205.1L598.2 1223.3M608.1 1203.9L608.1 1241.3M618 1202.7L618 1221.9M627.9 1201.4L627.9 1240.9M637.9 1200.1L637.9 1220.4M647.8 1198.6L647.8 1240.6M657.6 1197.2L657.6 1218.8M667.5 1195.7L667.5 1240.3M677.4 1194.4L677.4 1217.2M687.4 1193L687.4 1239.9M697.3 1191.9L697.3 1215.8M707.2 1190.8L707.2 1239.6M717.2 1189.7L717.2 1214.6M727.1 1188.7L727.1 1239.2M737.1 1187.8L737.1 1213.4M747 1186.9L747 1238.9M757 1186L757 1212.4M767 1185.2L767 1238.6M776.9 1184.5L776.9 1211.5M786.9 1183.9L786.9 1238.2M796.9 1183.4L796.9 1210.7M806.9 1183L806.9 1237.9M816.8 1184.1L813 1195.5M825.6 1188.6L814.2 1207.4M831.6 1196.5L823.2 1205.1M833.6 1206.3L815.1 1218.2M834.1 1216.3L822.6 1219.9M834.1 1226.3L812.1 1226.1M834 1236.3L822.6 1232.5" stroke-width="1.6"/>
<rect x="447" y="1240" width="10" height="182" stroke-width="1.2" style="fill:#fff"/>
<rect x="454" y="1257.5" width="380" height="5.5" stroke-width="1.2" style="fill:#fff"/>
<rect x="454" y="1397.5" width="380" height="5.5" stroke-width="1.2" style="fill:#fff"/>
<rect x="834" y="1244" width="7" height="172" stroke-width="1.2" style="fill:#fff"/>
<path d="M459.5 1263V1397.5M474.4 1263V1397.5M489.4 1263V1397.5M504.3 1263V1397.5M519.3 1263V1397.5M534.2 1263V1397.5M549.2 1263V1397.5M564.2 1263V1397.5M579.1 1263V1397.5M594.1 1263V1397.5M609 1263V1397.5M624 1263V1397.5M638.9 1263V1397.5M653.9 1263V1397.5M668.8 1263V1397.5M683.8 1263V1397.5M698.7 1263V1397.5M713.7 1263V1397.5M728.6 1263V1397.5M743.6 1263V1397.5M758.5 1263V1397.5M773.5 1263V1397.5M788.4 1263V1397.5M803.4 1263V1397.5M818.3 1263V1397.5" stroke-width="1.6"/>
<path d="M464.7 1303.5h4.4v57.5h-4.4zM479.6 1303.5h4.4v57.5h-4.4zM494.6 1303.5h4.4v57.5h-4.4zM509.5 1303.5h4.4v57.5h-4.4zM524.5 1303.5h4.4v57.5h-4.4zM539.5 1303.5h4.4v57.5h-4.4zM554.4 1303.5h4.4v57.5h-4.4zM569.4 1303.5h4.4v57.5h-4.4zM584.3 1303.5h4.4v57.5h-4.4zM599.3 1303.5h4.4v57.5h-4.4zM614.2 1303.5h4.4v57.5h-4.4zM629.2 1303.5h4.4v57.5h-4.4zM644.1 1303.5h4.4v57.5h-4.4zM659.1 1303.5h4.4v57.5h-4.4zM674 1303.5h4.4v57.5h-4.4zM689 1303.5h4.4v57.5h-4.4zM703.9 1303.5h4.4v57.5h-4.4zM718.9 1303.5h4.4v57.5h-4.4zM733.8 1303.5h4.4v57.5h-4.4zM748.8 1303.5h4.4v57.5h-4.4zM763.7 1303.5h4.4v57.5h-4.4zM778.7 1303.5h4.4v57.5h-4.4zM793.6 1303.5h4.4v57.5h-4.4zM808.6 1303.5h4.4v57.5h-4.4z" stroke-width="1.3"/>
<circle cx="451" cy="1234.6" r="3.3" stroke-width="1.4" style="fill:#fff"/>
<circle cx="441.5" cy="1253" r="3.3" stroke-width="1.4" style="fill:#fff"/>
<circle cx="461" cy="1253" r="3.3" stroke-width="1.4" style="fill:#fff"/>
<circle cx="442" cy="1296" r="3.3" stroke-width="1.4" style="fill:#fff"/>
<circle cx="442" cy="1366.6" r="3.3" stroke-width="1.4" style="fill:#fff"/>
<circle cx="442" cy="1408" r="3.3" stroke-width="1.4" style="fill:#fff"/>
<circle cx="461" cy="1408" r="3.3" stroke-width="1.4" style="fill:#fff"/>
<circle cx="452" cy="1426" r="3.3" stroke-width="1.4" style="fill:#fff"/>
<circle cx="828.6" cy="1252" r="3.3" stroke-width="1.4" style="fill:#fff"/>
<circle cx="846.6" cy="1252" r="3.3" stroke-width="1.4" style="fill:#fff"/>
<circle cx="828.6" cy="1406.7" r="3.3" stroke-width="1.4" style="fill:#fff"/>
<circle cx="846.6" cy="1409.4" r="3.3" stroke-width="1.4" style="fill:#fff"/>
<circle cx="655.5" cy="1242" r="7.5" stroke-width="1.6" style="fill:white"/>
<text class="n" x="655.5" y="1245.6" font-size="10" text-anchor="middle">11</text>
<path d="M652 1250L646 1273" stroke-width="1.3"/>
<text class="t" x="377" y="1449" font-size="12.5" text-anchor="start" textLength="72" lengthAdjust="spacing">Stoßbalken</text>
<text class="t" x="473" y="1449" font-size="12.5" text-anchor="start" textLength="73" lengthAdjust="spacing">Rödelbohle</text>
<path d="M440 1440L450 1424" stroke-width="1.3"/>
<path d="M496 1438L515 1398" stroke-width="1.3"/>
<path d="M463 1406C466.8 1406.5 477.7 1407.9 486 1409C494.3 1410.1 500.7 1410.5 513 1412.5C525.3 1414.5 543.5 1418.1 560 1421C576.5 1423.9 594.7 1427.7 612 1430C629.3 1432.3 646.7 1433.1 664 1435C681.3 1436.9 698.7 1439.3 716 1441.5C733.3 1443.7 755 1446.3 768 1448C781 1449.7 786.2 1451.8 794 1451.5C801.8 1451.2 809.3 1448.9 815 1446C820.7 1443.1 824.8 1438.8 828 1434C831.2 1429.2 833.4 1419.8 834.5 1417" stroke-width="2.5"/>
<path d="M468 1406.6L468 1406.5M477.9 1407.9L477.9 1407.2M487.8 1409.2L487.8 1406.5M497.7 1410.4L497.7 1408.4M507.6 1411.7L507.6 1406.5M517.5 1413.3L517.5 1409.9M527.4 1415L527.4 1406.5M537.2 1416.8L537.2 1411.7M547 1418.6L547 1406.5M556.9 1420.4L556.9 1413.5M566.7 1422.2L566.7 1406.5M576.5 1424L576.5 1415.3M586.4 1425.8L586.4 1406.5M596.2 1427.6L596.2 1417M606.1 1429.2L606.1 1406.5M616 1430.5L616 1418.5M625.9 1431.6L625.9 1406.5M635.9 1432.5L635.9 1419.5M645.9 1433.3L645.9 1406.5M655.8 1434.2L655.8 1420.3M665.8 1435.2L665.8 1406.5M675.7 1436.4L675.7 1421.4M685.6 1437.6L685.6 1406.5M695.6 1438.9L695.6 1422.7M705.5 1440.2L705.5 1406.5M715.4 1441.4L715.4 1424M725.3 1442.7L725.3 1406.5M735.2 1443.9L735.2 1425.2M745.2 1445.1L745.2 1406.5M755.1 1446.4L755.1 1426.4M765 1447.6L765 1406.5M774.9 1449L774.9 1427.8M784.7 1450.8L784.7 1406.5M794.7 1451.5L794.7 1429M804.6 1449.9L804.6 1406.5M814 1446.5L809.1 1434.5M822.2 1440.9L807.6 1421.9M828.5 1433.2L818.1 1425.4M832.3 1424L809.8 1415.6" stroke-width="1.6"/>
<rect x="834" y="1242.5" width="194.6" height="174.5" stroke-width="1.3" style="fill:none"/>
<path d="M843 1245.5L843 1414" stroke-width="1.4"/>
<path d="M834 1245.7L1028.6 1245.7" stroke-width="1.4"/>
<path d="M834 1414L1028.6 1414" stroke-width="1.4"/>
<path d="M1028.6 1242.5V1312H1105V1346H1028.6V1417" stroke-width="1.4" style="fill:#fff"/>
<path d="M1028.6 1314.5L1102 1314.5" stroke-width="1.4"/>
<path d="M1028.6 1343.5L1102 1343.5" stroke-width="1.4"/>
<path d="M1028.6 1242.5L1191 1242.5" stroke-width="1.5"/>
<path d="M1028.6 1250.5L1166.5 1250.5" stroke-width="1.6"/>
<path d="M1028.6 1417L1191 1417" stroke-width="1.5"/>
<path d="M1028.6 1409.6L1166.5 1409.6" stroke-width="1.6"/>
<circle cx="847" cy="1250.5" r="4.5" stroke-width="1.4" style="fill:#fff"/>
<circle cx="933.6" cy="1250.5" r="4.5" stroke-width="1.4" style="fill:#fff"/>
<circle cx="1020.4" cy="1250.5" r="4.5" stroke-width="1.4" style="fill:#fff"/>
<circle cx="847" cy="1409.6" r="4.5" stroke-width="1.4" style="fill:#fff"/>
<path d="M842.5 1409.6h9M847 1405.1v9" stroke-width="1.2"/>
<circle cx="933.6" cy="1409.6" r="4.5" stroke-width="1.4" style="fill:#fff"/>
<path d="M929.1 1409.6h9M933.6 1405.1v9" stroke-width="1.2"/>
<circle cx="1020.4" cy="1409.6" r="4.5" stroke-width="1.4" style="fill:#fff"/>
<path d="M1015.9 1409.6h9M1020.4 1405.1v9" stroke-width="1.2"/>
<circle cx="1023" cy="1308" r="3" stroke-width="1.4" style="fill:#fff"/>
<circle cx="1023" cy="1353" r="3" stroke-width="1.4" style="fill:#fff"/>
<circle cx="1005" cy="1268" r="7.5" stroke-width="1.6" style="fill:white"/>
<text class="n" x="1005" y="1272" font-size="11" text-anchor="middle">1</text>
<path d="M1010 1262L1017 1255" stroke-width="1.2"/>
<circle cx="863" cy="1362" r="7.5" stroke-width="1.6" style="fill:white"/>
<text class="n" x="863" y="1365.6" font-size="10" text-anchor="middle">12</text>
<circle cx="1069" cy="1361" r="7.5" stroke-width="1.6" style="fill:white"/>
<text class="n" x="1069" y="1365" font-size="11" text-anchor="middle">8</text>
<circle cx="1041" cy="1386" r="7.5" stroke-width="1.6" style="fill:white"/>
<text class="n" x="1041" y="1390" font-size="11" text-anchor="middle">7</text>
<rect x="846" y="1316" width="31.5" height="30" stroke-width="1.0" stroke-dasharray="4 2 1 2" style="fill:none"/>
<text class="h" x="984" y="1435" font-size="10" text-anchor="middle">6</text>
<path d="M834 1178L834 1242" stroke-width="1.4"/>
<path d="M1028.6 1178L1028.6 1242" stroke-width="1.4"/>
<path d="M835 1188L895 1188" stroke-width="1.4"/>
<path d="M960 1188L1027.6 1188" stroke-width="1.4"/>
<path d="M842 1186L835 1188L842 1190" stroke-width="1.7"/>
<path d="M1020.6 1190L1027.6 1188L1020.6 1186" stroke-width="1.7"/>
<text class="t" x="928" y="1194" font-size="16" text-anchor="middle" letter-spacing="1.5">2. 50</text>
<path d="M847 1210L847 1246" stroke-width="1.3"/>
<path d="M933.6 1210L933.6 1246" stroke-width="1.3"/>
<path d="M1020.4 1210L1020.4 1246" stroke-width="1.3"/>
<path d="M848 1218.5L858 1218.5" stroke-width="1.3"/>
<path d="M903 1218.5L932.6 1218.5" stroke-width="1.3"/>
<path d="M854 1216.5L848 1218.5L854 1220.5" stroke-width="1.7"/>
<path d="M926.6 1220.5L932.6 1218.5L926.6 1216.5" stroke-width="1.7"/>
<path d="M934.6 1218.5L941 1218.5" stroke-width="1.3"/>
<path d="M993 1218.5L1019.4 1218.5" stroke-width="1.3"/>
<path d="M940.6 1216.5L934.6 1218.5L940.6 1220.5" stroke-width="1.7"/>
<path d="M1013.4 1220.5L1019.4 1218.5L1013.4 1216.5" stroke-width="1.7"/>
<text class="h" x="880" y="1223" font-size="13" text-anchor="middle">1 1 3</text>
<text class="h" x="967" y="1223" font-size="13" text-anchor="middle">1.13</text>
<path d="M1155 1251L1155 1409" stroke-width="1.4"/>
<path d="M1157 1258L1155 1251L1153 1258" stroke-width="1.7"/>
<path d="M1153 1402L1155 1409L1157 1402" stroke-width="1.7"/>
<path d="M1189 1243L1189 1416.5" stroke-width="1.4"/>
<path d="M1191 1250L1189 1243L1187 1250" stroke-width="1.7"/>
<path d="M1187 1409.5L1189 1416.5L1191 1409.5" stroke-width="1.7"/>
<rect x="1147" y="1310" width="16" height="42" style="fill:#fff;stroke:none"/>
<rect x="1181" y="1306" width="16" height="46" style="fill:#fff;stroke:none"/>
<text class="t" x="1161" y="1331" font-size="15" text-anchor="middle" transform="rotate(-90 1161 1331)" letter-spacing="1">2.16</text>
<text class="t" x="1195" y="1329" font-size="15" text-anchor="middle" transform="rotate(-90 1195 1329)" letter-spacing="1">2. 40</text>
<path d="M1105 1312L1131 1312" stroke-width="1.3"/>
<path d="M1105 1346L1131 1346" stroke-width="1.3"/>
<path d="M1126 1303L1126 1356" stroke-width="1.3"/>
<text class="t" x="1128.5" y="1329" font-size="11" text-anchor="middle" transform="rotate(-90 1128.5 1329)">0.50</text>
<path d="M379 1241L447 1241" stroke-width="1.3"/>
<path d="M405 1257.5L447 1257.5" stroke-width="1.3"/>
<path d="M371 1422L447 1422" stroke-width="1.3"/>
<path d="M415 1403L447 1403" stroke-width="1.3"/>
<path d="M429 1303.5L465 1303.5" stroke-width="1.3"/>
<path d="M429 1361L465 1361" stroke-width="1.3"/>
<path d="M381 1241L381 1422" stroke-width="1.3"/>
<path d="M383 1247L381 1241L379 1247" stroke-width="1.7"/>
<path d="M379 1416L381 1422L383 1416" stroke-width="1.7"/>
<path d="M415.5 1258L415.5 1403" stroke-width="1.3"/>
<path d="M417.5 1264L415.5 1258L413.5 1264" stroke-width="1.7"/>
<path d="M413.5 1397L415.5 1403L417.5 1397" stroke-width="1.7"/>
<path d="M429 1304L429 1361" stroke-width="1.3"/>
<path d="M430.8 1309L429 1304L427.2 1309" stroke-width="1.7"/>
<path d="M427.2 1356L429 1361L430.8 1356" stroke-width="1.7"/>
<rect x="373" y="1315" width="16" height="50" style="fill:#fff;stroke:none"/>
<rect x="408" y="1314" width="28" height="50" style="fill:#fff;stroke:none"/>
<text class="t" x="387" y="1345" font-size="16" text-anchor="middle" transform="rotate(-90 387 1345)" letter-spacing="1">2.50</text>
<text class="t" x="420.5" y="1347" font-size="15" text-anchor="middle" transform="rotate(-90 420.5 1347)">2.00</text>
<text class="t" x="433" y="1331" font-size="15" text-anchor="middle" transform="rotate(-90 433 1331)">0.80</text>
<path d="M155 1406.5C155.3 1407.4 155.1 1408.3 156.8 1412C158.5 1415.7 161.1 1423.1 165.3 1428.7C169.5 1434.3 175 1438.6 182 1445.6C189 1452.6 197.5 1461.8 207.3 1470.8C217.1 1479.8 229.8 1491 241 1499.4C252.2 1507.8 263.5 1514.3 274.7 1521.3C285.9 1528.3 297.2 1535.6 308.4 1541.5C319.6 1547.4 331.6 1551.2 342 1556.7C352.4 1562.2 360.8 1569.3 370.6 1574.4C380.4 1579.5 390.8 1582.6 401 1587.4C411.2 1592.2 421.6 1598.1 431.8 1603.5C442 1608.9 452.2 1613.6 462.4 1619.6C472.6 1625.6 480.1 1632.4 493 1639.5C505.9 1646.6 524.2 1654 540 1662.4C555.8 1670.8 571.3 1681.1 588 1690C604.7 1698.9 621.7 1707 640 1716C658.3 1725 683.5 1737.2 697.7 1744C711.9 1750.8 716.8 1753.6 725 1757C733.2 1760.4 738.7 1762.8 747 1764.5C755.3 1766.2 764.1 1766.5 775 1767.5C785.9 1768.5 798.3 1769.8 812.5 1770.3C826.7 1770.8 842.4 1770.8 860 1770.3C877.6 1769.8 897.7 1769.2 918 1767C938.3 1764.8 962 1762.9 982 1757C1002 1751.1 1022.2 1741 1038 1731.5C1053.8 1722 1067.3 1708.4 1077 1700C1086.7 1691.6 1090.9 1689.5 1096 1681C1101.1 1672.5 1104.3 1658.5 1107.5 1649C1110.7 1639.5 1112.8 1634.3 1115 1623.7C1117.2 1613.1 1119.5 1598.3 1121 1585.5C1122.5 1572.7 1122.8 1557.6 1124 1547C1125.2 1536.4 1126.8 1531.5 1128 1522C1129.2 1512.5 1130.8 1499.5 1131 1490C1131.2 1480.5 1129.7 1473.3 1129 1465C1128.3 1456.7 1127.4 1447.8 1127 1440C1126.6 1432.2 1126.7 1421.7 1126.6 1418" stroke-width="3"/>
<path d="M155 1406.5C155.5 1406.2 156.7 1404.9 158 1404.8C159.3 1404.7 161.5 1405 163 1406C164.5 1407 165.2 1408.6 167 1411C168.8 1413.4 169.8 1416 173.7 1420.3C177.6 1424.6 184.9 1431.7 190.5 1437C196.1 1442.3 201.7 1447 207.3 1452.3C212.9 1457.6 215.6 1462 224 1469C232.4 1476 246.6 1487.4 257.8 1494.4C269.1 1501.4 283.1 1506.6 291.5 1511.2C299.9 1515.8 300 1517.5 308.4 1522C316.8 1526.5 331.6 1533.1 342 1538C352.4 1542.9 360.8 1546.7 370.6 1551.5C380.4 1556.3 392.1 1562.2 401 1566.8C409.9 1571.4 414.3 1575.2 424 1579C433.7 1582.8 447.9 1585 459.4 1589.7C470.9 1594.4 479.6 1600.3 493 1607.3C506.4 1614.3 528.8 1625.8 540 1631.8C551.2 1637.8 549 1637.9 560 1643C571 1648.1 590.6 1655.2 605.9 1662.5C621.2 1669.8 636.5 1679.1 651.8 1686.6C667.1 1694 682.4 1702 697.7 1707.2C713 1712.4 730.2 1714.4 743.6 1717.5C757 1720.6 766.5 1723.9 778 1725.6C789.5 1727.3 798.8 1728.3 812.5 1727.9C826.2 1727.5 835.8 1725.3 860 1723.3C884.2 1721.2 931.7 1720.9 958 1715.6C984.3 1710.3 1002.4 1700.5 1017.7 1691.7C1033 1682.9 1042.3 1671.1 1049.6 1663C1056.9 1654.9 1057.9 1651.7 1061.6 1643C1065.3 1634.3 1069.3 1621.7 1072 1611C1074.7 1600.3 1076 1588.5 1077.5 1579C1079 1569.5 1079.5 1562.2 1080.7 1553.7C1082 1545.2 1084 1536.1 1085 1528C1086 1519.9 1087.2 1512 1087 1505C1086.8 1498 1086.2 1491.5 1084 1486C1081.8 1480.5 1078.7 1475.8 1074 1472C1069.3 1468.2 1065 1465.3 1056 1463.5C1047 1461.7 1034.7 1461.5 1020 1461C1005.3 1460.5 984.7 1460.6 968 1460.5C951.3 1460.4 936 1460.6 920 1460.5C904 1460.4 886.4 1461.1 872 1460C857.6 1458.9 846.5 1455.4 833.5 1454C820.5 1452.6 800.6 1451.9 794 1451.5" stroke-width="2.8"/>
<path d="M834.5 1418C834.8 1420 834.1 1426.8 836 1430C837.9 1433.2 840 1435.4 846 1437C852 1438.6 854.7 1439 872 1439.5C889.3 1440 922 1440.1 950 1440C978 1439.9 1019.7 1439 1040 1439C1060.3 1439 1062.5 1438.9 1072 1440C1081.5 1441.1 1089.2 1442 1097 1445.5C1104.8 1449 1113.7 1455.5 1119 1460.7C1124.3 1466 1127.3 1474.3 1129 1477" stroke-width="2.3"/>
<path d="M854.3 1438.6L854.3 1447.6M863.8 1439.2L863.8 1457.2M873.3 1439.5L873.3 1448.5M882.8 1439.7L882.8 1457.7M892.3 1439.9L892.3 1448.9M901.8 1439.9L901.8 1457.9M911.3 1440L911.3 1449M920.8 1440L920.8 1458M930.3 1440L930.3 1449M939.8 1440L939.8 1458M949.3 1440L949.3 1449M958.8 1440L958.8 1458M968.3 1439.9L968.3 1448.9M977.8 1439.7L977.8 1457.7M987.3 1439.6L987.3 1448.6M996.8 1439.5L996.8 1457.5M1006.2 1439.3L1006.2 1448.3M1015.7 1439.2L1015.7 1457.2M1025.2 1439.1L1025.2 1448.1M1034.7 1439L1034.7 1457M1044.2 1439L1044.2 1448M1053.7 1439L1053.7 1457M1063.2 1439.2L1062.6 1451.2M1072.7 1440.1L1068.1 1461.6M1082.1 1441.3L1077.9 1452.6M1091.4 1443.4L1080.7 1462.7M1100.2 1447L1092.9 1456.6M1108.3 1452L1092.7 1467.5M1115.8 1457.8L1106.2 1465M1122.3 1464.7L1103.1 1475.5M1126.9 1472.9L1115.8 1477.4" stroke-width="1.5"/>
<path d="M161.1 1409.5L152 1413.6M164.5 1419.5L157.3 1423M170.3 1427L162.6 1433.4M177.3 1434.2L170.4 1441.5M191.6 1435L173 1453.7M192.6 1449.1L185.3 1456.3M206.8 1449.9L187.6 1469M207.5 1463.9L200.4 1471.5M221.9 1463.5L203.3 1484.2M223.2 1477.9L216.2 1485.9M237.8 1476.8L219.5 1498.6M239.3 1491.2L232.5 1499.8M253.8 1488.7L236.8 1512.5M256.2 1503.2L250.1 1512.5M270.9 1499.3L255.1 1524.8M274.1 1514.2L268.1 1523.9M289.3 1510.1L272.9 1536.2M292.2 1525.3L286 1535.3M307.2 1520.4L291.2 1547.7M310.2 1535.7L304.6 1546.2M324.3 1528.8L311.3 1558.5M329.1 1544.1L324.4 1555.4M344.5 1536.8L330.4 1567M349 1553.5L342.6 1564.2M365.7 1548.3L346.6 1576.7M367 1565L360.3 1575.8M381.6 1557.4L366.4 1588.9M385 1573.7L380.2 1585.8M400.2 1564.5L386.8 1597.7M405 1582L399.3 1593.9M421.5 1573.9L404.5 1606.4M424.2 1591.7L417.7 1603.7M440.5 1583.4L423 1616.6M442.8 1601.4L436.6 1613.7M459.5 1592.5L441.8 1626.5M461.9 1611.2L455.1 1623.5M480.1 1603.6L458.7 1636.4M480.4 1623L472.2 1634.7M497.7 1615L476.3 1648.7M497.7 1633.7L490.8 1646.6M514.1 1623.2L496.5 1660.1M516.4 1642.7L510.2 1656.2M533.4 1631.6L515.7 1669.4M535.8 1651.8L529.1 1665.3M553.8 1641.2L533.7 1678.6M555 1661.9L547.3 1675.3M573.4 1651.8L551.3 1689M573.4 1672.6L565.4 1686.1M591.7 1661.9L569.6 1700.2M591.6 1682.9L584 1696.9M609.5 1670.9L588.8 1710.9M610.2 1692.4L603 1706.8M628.2 1679.7L608 1720.8M629.2 1701.6L622 1716.4M647.5 1688.4L627 1730.3M648.4 1710.8L641 1725.8M666.7 1697.2L645.9 1739.9M667.4 1719.9L660 1735.2M686 1705.9L664.9 1749.4M686.6 1729L679 1744.6M705.3 1714.6L683.9 1758.9M705.7 1738.1L698.1 1753.9M724.8 1723.5L702.7 1768.4M724.6 1747.1L717.4 1763.4M742.3 1730.6L723.3 1777.9M743.3 1754.3L738.2 1771.6M755.9 1734.6L748 1785M762.4 1757.5L760.8 1775.4M774.7 1736.4L770.5 1787.2M783.6 1759.2L781.9 1777.2M795.8 1738.3L791.7 1789.1M804.4 1760.9L803.3 1778.9M815.4 1739.4L813.8 1790.4M825.2 1761.6L824.9 1779.6M835.6 1739.7L835.7 1790.7M846.1 1761.6L846.4 1779.6M855.9 1739.4L857.4 1790.4M867.2 1761.1L867.7 1779.1M876.8 1738.7L878.8 1789.7M888.2 1760.3L889.1 1778.2M897 1737.7L900.6 1788.6M909 1758.8L910.5 1776.8M917 1735.9L922.5 1786.6M929.9 1756.7L931.8 1774.6M937.9 1733.7L943.7 1784.4M950.7 1754.2L953.2 1772M957.2 1730.9L965.7 1781.2M970.8 1750.6L974.8 1768.2M973.9 1727.1L988.9 1775.8M990 1744.8L996.1 1761.8M992.1 1723.6L1011.4 1769.7M1009.6 1738.8L1016.5 1753.2M1009 1715.6L1032.4 1759.9M1028 1729.2L1035.8 1743.2M1025.8 1706.1L1052.1 1748.6M1045.1 1718.2L1054.6 1731.1M1039.4 1695.9L1071.8 1734.1M1060.8 1705.1L1071.5 1717M1054.7 1682.4L1088.1 1719.6M1076.8 1690.8L1087.2 1703.3M1069.4 1669.2L1105.7 1705.8M1089.3 1676.9L1104.2 1686.2M1072.9 1661.5L1123.9 1680M1095.4 1658.9L1113.6 1664.4M1078 1642.3L1132.8 1659.3M1101.1 1638.1L1120.7 1644.7M1083.3 1623.3L1141.7 1638.4M1105.4 1618.9L1127.3 1622.8M1085.9 1606L1148.8 1614.5M1107.9 1598.6L1131.6 1601.2M1087.9 1586.5L1154.3 1592.3M1109.5 1578.1L1135 1579.5M1088.8 1566.9L1158.5 1569.6M1110.1 1557.2L1137.1 1558.1M1090 1545.5L1161 1548.8M1112.6 1535.6L1139.5 1537.6M1093.5 1524.4L1164.4 1528.1M1115.8 1515.2L1142.8 1516.1M1096 1504.1L1166.9 1506.2M1117.8 1494.3L1144.8 1494.8M1096.9 1484.5L1167.9 1483.4M1129.9 1473.4L1149.9 1473.4M1128.8 1462.8L1166.8 1462.8M1127.9 1452.3L1147.9 1452.3M1127.1 1441.7L1165.1 1441.7M1126.7 1431.1L1146.7 1431.1M1126.6 1420.5L1164.6 1420.5" stroke-width="1.7"/>
<path d="M48 1333L377 1332.2" stroke-width="1.7" stroke-dasharray="22 6 2 6"/>
<path d="M400 1332L410 1332" stroke-width="1.7"/>
<path d="M440 1332L444 1332" stroke-width="1.7"/>
<path d="M969 1330.6L1103 1330.6" stroke-width="1.7" stroke-dasharray="22 6 2 6"/>
<path d="M1209 1329.5L1286 1328.5" stroke-width="1.7" stroke-dasharray="22 6 2 6"/>
<path d="M47 1333L47.5 1289" stroke-width="1.5"/>
<path d="M50.1 1297L47.5 1289L44.9 1297" stroke-width="1.7"/>
<path d="M1286.3 1328.5L1286.3 1288" stroke-width="1.5"/>
<path d="M1288.9 1296L1286.3 1288L1283.7 1296" stroke-width="1.7"/>
<text class="ht" x="38" y="1276.3" font-size="32" textLength="20" lengthAdjust="spacingAndGlyphs">A</text>
<text class="ht" x="1276" y="1277.4" font-size="33" textLength="24" lengthAdjust="spacingAndGlyphs">B</text>
<path d="M90 1580L1254.5 1577" stroke-width="1.7" stroke-dasharray="22 6 2 6"/>
<path d="M90 1580L90 1535" stroke-width="1.5"/>
<path d="M92.6 1543L90 1535L87.4 1543" stroke-width="1.7"/>
<path d="M1254.5 1577L1254.5 1538" stroke-width="1.5"/>
<path d="M1257.1 1546L1254.5 1538L1251.9 1546" stroke-width="1.7"/>
<text class="ht" x="76" y="1524" font-size="39" textLength="22" lengthAdjust="spacingAndGlyphs">C</text>
<text class="ht" x="1247" y="1522.7" font-size="32" textLength="24" lengthAdjust="spacingAndGlyphs">D</text>
<path d="M858.5 1111.5L858.5 1180" stroke-width="1.7" stroke-dasharray="16 8"/>
<path d="M860 1430L862 1790" stroke-width="1.6" stroke-dasharray="22 6 2 6"/>
<path d="M862 1790L863 1821.7" stroke-width="1.7"/>
<path d="M858.5 1111.5L898 1111.5" stroke-width="1.7"/>
<path d="M890 1113.7L898 1111.5L890 1109.3" stroke-width="1.7"/>
<path d="M863 1821.7L907.5 1821.7" stroke-width="1.7"/>
<path d="M899.5 1823.9L907.5 1821.7L899.5 1819.5" stroke-width="1.7"/>
<path d="M914.5 1095L915 1110.5L940 1117.5M923 1104.5L923.5 1111" stroke-width="5.3"/>
<path d="M918 1805L918 1819.5L941 1825.5L940.5 1811M925.4 1814.5L925.4 1819.5" stroke-width="5.1"/>
<text class="ht3" x="341" y="1834" font-size="34" textLength="115" lengthAdjust="spacing">Schnitt</text>
<text class="ht3" x="485" y="1834" font-size="34" textLength="20" lengthAdjust="spacing">E</text>
<text class="ht3" x="521" y="1834" font-size="34" textLength="11" lengthAdjust="spacing">-</text>
<text class="ht3" x="548" y="1834" font-size="34" textLength="28" lengthAdjust="spacing">F</text>
<path d="M338 1840.5L576 1840.5" stroke-width="2.3"/>
<path d="M99 1913C115.8 1912.9 166.5 1912.8 200 1912.5C233.5 1912.2 273.6 1911.8 300 1911.5C326.4 1911.2 346.5 1908.2 358.5 1910.5C370.5 1912.8 367.6 1919.6 372 1925C376.4 1930.4 380.3 1939.2 385 1943C389.7 1946.8 380.8 1947.1 400 1948C419.2 1948.9 466.7 1948.8 500 1948.5C533.3 1948.2 578 1947.2 600 1946C622 1944.8 624.5 1944.6 631.7 1941.6C638.9 1938.6 639.8 1932.6 643 1928C646.2 1923.4 648.2 1917.3 651 1914C653.8 1910.7 657 1909.2 660 1908C663 1906.8 665.3 1906.3 669 1907C672.7 1907.7 677.5 1908.9 682 1912C686.5 1915.1 689.7 1920 696 1925.5C702.3 1931 711.5 1939.1 720 1945C728.5 1950.9 742.5 1958.3 747 1961" stroke-width="2.1"/>
<path d="M358.5 1910.5L660 1908" stroke-width="2.1"/>
<path d="M105.7 1915.3L102.8 1921M108 1915.2L105.1 1921M110.3 1915.2L107.4 1921M115.2 1916.3L119.8 1916.2M115.2 1918.1L119.8 1918M115.2 1919.9L119.8 1919.8M127.7 1915.1L124.8 1920.9M130 1915.1L127.1 1920.8M132.3 1915.1L129.4 1920.8M137.2 1916.1L141.8 1916.1M137.2 1917.9L141.8 1917.9M137.2 1919.7L141.8 1919.7M149.7 1914.9L146.7 1920.7M152 1914.9L149 1920.7M154.3 1914.9L151.3 1920.7M159.2 1915.9L163.8 1915.9M159.2 1917.7L163.8 1917.7M159.2 1919.5L163.8 1919.5M171.7 1914.7L168.7 1920.5M174 1914.7L171 1920.5M176.3 1914.7L173.3 1920.5M181.2 1915.7L185.8 1915.7M181.2 1917.5L185.8 1917.5M181.2 1919.3L185.8 1919.3M193.7 1914.6L190.7 1920.3M196 1914.6L193 1920.3M198.3 1914.5L195.3 1920.3M203.2 1915.6L207.8 1915.5M203.2 1917.4L207.8 1917.3M203.2 1919.2L207.8 1919.1M215.7 1914.4L212.7 1920.2M218 1914.4L215 1920.2M220.3 1914.4L217.3 1920.1M225.2 1915.4L229.8 1915.4M225.2 1917.2L229.8 1917.2M225.2 1919L229.8 1919M237.7 1914.2L234.7 1920M240 1914.2L237 1920M242.3 1914.2L239.3 1920M247.2 1915.2L251.8 1915.2M247.2 1917L251.8 1917M247.2 1918.8L251.8 1918.8M259.7 1914.1L256.7 1919.8M262 1914L259 1919.8M264.3 1914L261.3 1919.8M269.2 1915.1L273.8 1915M269.2 1916.9L273.8 1916.8M269.2 1918.7L273.8 1918.6M281.7 1913.9L278.7 1919.7M284 1913.9L281 1919.6M286.3 1913.9L283.3 1919.6M291.2 1914.9L295.8 1914.9M291.2 1916.7L295.8 1916.7M291.2 1918.5L295.8 1918.5M303.7 1913.7L300.7 1919.5M306 1913.7L303 1919.5M308.3 1913.7L305.3 1919.5M313.2 1914.7L317.8 1914.7M313.2 1916.5L317.8 1916.5M313.2 1918.3L317.8 1918.3M325.7 1913.5L322.7 1919.3M328 1913.5L325 1919.3M330.3 1913.5L327.3 1919.3M335.2 1914.5L339.8 1914.5M335.2 1916.3L339.8 1916.3M335.2 1918.1L339.8 1918.1M347.7 1913.4L344.7 1919.1M350 1913.4L347 1919.1M352.3 1913.3L349.3 1919.1" stroke-width="1.7"/>
<path d="M366.2 1922.2L359.7 1922.8M367.4 1924.1L361 1924.7M368.7 1926.1L362.2 1926.6M370.5 1930.8L373 1934.6M369 1931.8L371.5 1935.6M367.5 1932.8L370 1936.6M378.7 1940.3L372.5 1942M380.3 1942L374 1943.7M381.9 1943.7L375.6 1945.4M384.3 1949.3L388.6 1950.8M383.7 1950.9L388 1952.5M383.1 1952.6L387.4 1954.2M397.1 1950.3L393.7 1955.8M399.4 1950.5L396 1956M401.6 1950.6L398.3 1956.1M406.5 1951.9L411.1 1952M406.5 1953.7L411.1 1953.8M406.4 1955.5L411 1955.6M419.1 1951.1L416 1956.9M421.4 1951.2L418.3 1956.9M423.7 1951.2L420.6 1956.9M428.6 1952.3L433.2 1952.4M428.5 1954.1L433.1 1954.2M428.5 1955.9L433.1 1956M441.1 1951.3L438.1 1957.1M443.4 1951.3L440.4 1957.1M445.7 1951.3L442.7 1957.1M450.6 1952.4L455.2 1952.4M450.6 1954.2L455.2 1954.2M450.6 1956L455.2 1956M463.1 1951.3L460.1 1957.1M465.4 1951.3L462.4 1957.1M467.7 1951.3L464.7 1957M472.6 1952.3L477.2 1952.3M472.6 1954.1L477.2 1954.1M472.6 1955.9L477.2 1955.9M485.1 1951.1L482.1 1956.9M487.4 1951.1L484.4 1956.9M489.7 1951.1L486.7 1956.9M494.6 1952.1L499.2 1952.1M494.6 1953.9L499.2 1953.9M494.6 1955.7L499.2 1955.7M507.1 1950.9L504.1 1956.7M509.4 1950.9L506.4 1956.7M511.7 1950.9L508.7 1956.7M516.6 1951.9L521.2 1951.8M516.6 1953.7L521.2 1953.6M516.6 1955.5L521.2 1955.4M529.1 1950.6L526.2 1956.4M531.4 1950.6L528.5 1956.4M533.7 1950.5L530.8 1956.3M538.6 1951.5L543.2 1951.4M538.6 1953.3L543.2 1953.2M538.7 1955.1L543.3 1955M551.1 1950.2L548.2 1956M553.4 1950.1L550.5 1955.9M555.7 1950.1L552.8 1955.9M560.6 1951L565.2 1950.9M560.6 1952.8L565.2 1952.7M560.7 1954.6L565.3 1954.5M573.1 1949.6L570.3 1955.4M575.4 1949.5L572.6 1955.4M577.7 1949.4L574.9 1955.3M582.6 1950.3L587.2 1950.2M582.7 1952.1L587.3 1952M582.7 1953.9L587.3 1953.8M595.1 1948.8L592.4 1954.7M597.4 1948.6L594.7 1954.5M599.7 1948.5L597 1954.4M604.6 1949.3L609.2 1948.9M604.8 1951.1L609.4 1950.7M604.9 1952.9L609.5 1952.5M617 1946.8L615 1952.9M619.3 1946.4L617.3 1952.6M621.6 1946L619.5 1952.2M626.6 1945.7L631 1944.5M627.1 1947.4L631.5 1946.3M627.5 1949.2L632 1948" stroke-width="1.7"/>
<path d="M652 1915.6L652 1922M654 1914.5L654 1921M656.1 1913.4L656.1 1919.9M659.9 1912.7L664.2 1911M660.6 1914.4L664.8 1912.7M661.2 1916L665.5 1914.3M670.3 1909L666.8 1914.5M672.6 1909.2L669.1 1914.6M674.9 1909.4L671.4 1914.8M677.7 1912.2L681.7 1914.4M676.8 1913.7L680.8 1916M676 1915.3L680 1917.6M687.7 1917.5L681.6 1919.6M689.4 1919.1L683.2 1921.2M691 1920.7L684.9 1922.7M692.9 1924.3L696.2 1927.5M691.6 1925.6L694.9 1928.8M690.4 1926.9L693.7 1930.1M702.1 1931.4L696 1933.6M703.8 1932.9L697.7 1935.2M705.5 1934.5L699.4 1936.7M707.7 1937.9L711.2 1940.9M706.5 1939.3L710 1942.3M705.3 1940.6L708.8 1943.7M717.2 1944.5L711.3 1947.2M719 1945.9L713.1 1948.6M720.9 1947.3L715 1950M723.6 1950.4L727.5 1952.9M722.6 1951.9L726.5 1954.4M721.6 1953.4L725.5 1955.9M734 1955.6L728.4 1959M735.9 1956.7L730.4 1960.2M737.9 1957.9L732.4 1961.3M740.7 1960.8L744.7 1963.1M739.8 1962.3L743.8 1964.7M738.9 1963.9L742.9 1966.2" stroke-width="1.7"/>
<rect x="139" y="1925.5" width="219.5" height="13.5" stroke-width="1.4" style="fill:#fff"/>
<path d="M139 1927C130 1928 127 1936 130 1942" stroke-width="1.6"/>
<path d="M160 1940L164 1946L168 1940L172 1946L176 1940L180 1946L184 1940L188 1946L192 1940L196 1946L200 1940L204 1946L208 1940L212 1946L216 1940L220 1946L224 1940L228 1946L232 1940L236 1946L240 1940L244 1946L248 1940L252 1946L256 1940L260 1946L264 1940L268 1946L272 1940L276 1946L280 1940L284 1946L288 1940L292 1946L296 1940L300 1946L304 1940L308 1946L312 1940L316 1946L320 1940L324 1946L328 1940L332 1946L336 1940L340 1946L344 1940" stroke-width="1.3"/>
<path d="M150 1940L350 1940" stroke-width="1.4"/>
<path d="M150 1947L350 1947" stroke-width="1.4"/>
<path d="M150 1960L350 1960" stroke-width="1.6"/>
<path d="M150 2039L383 2039" stroke-width="1.8"/>
<rect x="155.5" y="1947" width="10" height="92" style="fill:#888;stroke:#111;stroke-width:1.2"/>
<rect x="331" y="1947" width="9" height="92" style="fill:#888;stroke:#111;stroke-width:1.2"/>
<path d="M176 1960L176 2039" stroke-width="1.6"/>
<path d="M222 1960L222 2039" stroke-width="1.6"/>
<path d="M230 1960L230 2039" stroke-width="1.6"/>
<path d="M267.5 1960L267.5 2039" stroke-width="1.6"/>
<path d="M275.5 1960L275.5 2039" stroke-width="1.6"/>
<path d="M321 1960L321 2039" stroke-width="1.6"/>
<path d="M329 1960L329 2039" stroke-width="1.6"/>
<path d="M166 1979.5L222 1979.5" stroke-width="1.3"/>
<path d="M276 1979.5L334 1979.5" stroke-width="1.3"/>
<path d="M166 1997L222 1997" stroke-width="1.3"/>
<path d="M276 1997L334 1997" stroke-width="1.3"/>
<path d="M166 2017.5L222 2017.5" stroke-width="1.3"/>
<path d="M276 2017.5L334 2017.5" stroke-width="1.3"/>
<path d="M230 2017.5L267.5 2017.5" stroke-width="1.3"/>
<path d="M166 1977L201.5 1947L213 1947L168 1993Z" stroke-width="1.3" style="fill:#fff"/>
<path d="M284.5 1947L296 1947L331 1979L330 1992Z" stroke-width="1.3" style="fill:#fff"/>
<path d="M165 1953L170 1953" stroke-width="1.7"/>
<path d="M162 1949L162 1958" stroke-width="2.3"/>
<path d="M336 1949L336 1958" stroke-width="2.3"/>
<rect x="231" y="1963.5" width="36.5" height="33.5" stroke-width="2.4" style="fill:#fff"/>
<text class="t" x="249" y="1991.5" font-size="10.5" text-anchor="middle">&lt;0.42&gt;</text>
<text class="t" x="249" y="2015.5" font-size="11.5" text-anchor="middle">&lt;0.50&gt;</text>
<text class="t" x="204" y="1984" font-size="13" text-anchor="middle" transform="rotate(-40 204 1984)">0.90</text>
<path d="M180 2006.5L221.5 1963" stroke-width="1.3"/>
<text class="t" x="218" y="2017" font-size="12.5" text-anchor="middle" transform="rotate(-90 218 2017)">&lt;0.52&gt;</text>
<circle cx="120" cy="1931" r="8" stroke-width="1.6" style="fill:white"/>
<text class="n" x="120" y="1935.3" font-size="12" text-anchor="middle">4</text>
<circle cx="353" cy="1951" r="8" stroke-width="1.6" style="fill:white"/>
<text class="n" x="353" y="1955.3" font-size="12" text-anchor="middle">5</text>
<circle cx="141.6" cy="1995" r="8.5" stroke-width="1.6" style="fill:white"/>
<text class="n" x="141.6" y="1999.3" font-size="12" text-anchor="middle">6</text>
<circle cx="353" cy="1992.5" r="8.5" stroke-width="1.6" style="fill:white"/>
<text class="n" x="353" y="1996.8" font-size="12" text-anchor="middle">6</text>
<circle cx="290" cy="1976" r="8" stroke-width="1.6" style="fill:white"/>
<text class="n" x="290" y="1980.3" font-size="12" text-anchor="middle">7</text>
<circle cx="289" cy="2008.5" r="8" stroke-width="1.6" style="fill:white"/>
<text class="n" x="289" y="2012.8" font-size="12" text-anchor="middle">1</text>
<path d="M297 2009L320 2012" stroke-width="1.2"/>
<path d="M128 1932L140 1930" stroke-width="1.2"/>
<path d="M150 1997L160 2001" stroke-width="1.2"/>
<path d="M344 1960L382 1960" stroke-width="1.4"/>
<path d="M373.5 1960L373.5 2039" stroke-width="1.4"/>
<path d="M375.5 1966L373.5 1960L371.5 1966" stroke-width="1.7"/>
<path d="M371.5 2033L373.5 2039L375.5 2033" stroke-width="1.7"/>
<rect x="366" y="1985" width="16" height="30" style="fill:#fff;stroke:none"/>
<text class="t" x="379" y="2000" font-size="13" text-anchor="middle" transform="rotate(-90 379 2000)">1,05</text>
<path d="M154 1962.2L158.6 1965.2M154 1964.5L158.6 1967.5M154 1966.8L158.6 1969.8M154.5 1971.7L154.5 1976.3M156.3 1971.7L156.3 1976.3M158.1 1971.7L158.1 1976.3M154 1978.2L158.6 1981.2M154 1980.5L158.6 1983.5M154 1982.8L158.6 1985.8M154.5 1987.7L154.5 1992.3M156.3 1987.7L156.3 1992.3M158.1 1987.7L158.1 1992.3M154 1994.2L158.6 1997.2M154 1996.5L158.6 1999.5M154 1998.8L158.6 2001.8M154.5 2003.7L154.5 2008.3M156.3 2003.7L156.3 2008.3M158.1 2003.7L158.1 2008.3M154 2010.2L158.6 2013.2M154 2012.5L158.6 2015.5M154 2014.8L158.6 2017.8M154.5 2019.7L154.5 2024.3M156.3 2019.7L156.3 2024.3M158.1 2019.7L158.1 2024.3M154 2026.2L158.6 2029.2M154 2028.5L158.6 2031.5M154 2030.8L158.6 2033.8" stroke-width="1.5"/>
<path d="M346 1965.2L341.4 1962.2M346 1967.5L341.4 1964.5M346 1969.8L341.4 1966.8M345.5 1971.7L345.5 1976.3M343.7 1971.7L343.7 1976.3M341.9 1971.7L341.9 1976.3M346 1981.2L341.4 1978.2M346 1983.5L341.4 1980.5M346 1985.8L341.4 1982.8M345.5 1987.7L345.5 1992.3M343.7 1987.7L343.7 1992.3M341.9 1987.7L341.9 1992.3M346 1997.2L341.4 1994.2M346 1999.5L341.4 1996.5M346 2001.8L341.4 1998.8M345.5 2003.7L345.5 2008.3M343.7 2003.7L343.7 2008.3M341.9 2003.7L341.9 2008.3M346 2013.2L341.4 2010.2M346 2015.5L341.4 2012.5M346 2017.8L341.4 2014.8M345.5 2019.7L345.5 2024.3M343.7 2019.7L343.7 2024.3M341.9 2019.7L341.9 2024.3M346 2029.2L341.4 2026.2M346 2031.5L341.4 2028.5M346 2033.8L341.4 2030.8" stroke-width="1.5"/>
<path d="M164.2 2040.5L161.2 2045.7M166.5 2040.5L163.5 2045.7M168.8 2040.5L165.8 2045.7M172.7 2041.3L177.3 2041.3M172.7 2043.1L177.3 2043.1M172.7 2044.9L177.3 2044.9M184.2 2040.5L181.2 2045.7M186.5 2040.5L183.5 2045.7M188.8 2040.5L185.8 2045.7M192.7 2041.3L197.3 2041.3M192.7 2043.1L197.3 2043.1M192.7 2044.9L197.3 2044.9M204.2 2040.5L201.2 2045.7M206.5 2040.5L203.5 2045.7M208.8 2040.5L205.8 2045.7M212.7 2041.3L217.3 2041.3M212.7 2043.1L217.3 2043.1M212.7 2044.9L217.3 2044.9M224.2 2040.5L221.2 2045.7M226.5 2040.5L223.5 2045.7M228.8 2040.5L225.8 2045.7M232.7 2041.3L237.3 2041.3M232.7 2043.1L237.3 2043.1M232.7 2044.9L237.3 2044.9M244.2 2040.5L241.2 2045.7M246.5 2040.5L243.5 2045.7M248.8 2040.5L245.8 2045.7M252.7 2041.3L257.3 2041.3M252.7 2043.1L257.3 2043.1M252.7 2044.9L257.3 2044.9M264.2 2040.5L261.2 2045.7M266.5 2040.5L263.5 2045.7M268.8 2040.5L265.8 2045.7M272.7 2041.3L277.3 2041.3M272.7 2043.1L277.3 2043.1M272.7 2044.9L277.3 2044.9M284.2 2040.5L281.2 2045.7M286.5 2040.5L283.5 2045.7M288.8 2040.5L285.8 2045.7M292.7 2041.3L297.3 2041.3M292.7 2043.1L297.3 2043.1M292.7 2044.9L297.3 2044.9M304.2 2040.5L301.2 2045.7M306.5 2040.5L303.5 2045.7M308.8 2040.5L305.8 2045.7M312.7 2041.3L317.3 2041.3M312.7 2043.1L317.3 2043.1M312.7 2044.9L317.3 2044.9M324.2 2040.5L321.2 2045.7M326.5 2040.5L323.5 2045.7M328.8 2040.5L325.8 2045.7M332.7 2041.3L337.3 2041.3M332.7 2043.1L337.3 2043.1M332.7 2044.9L337.3 2044.9" stroke-width="1.5"/>
<path d="M165.7 2042L165.7 2095" stroke-width="1.4" stroke-dasharray="6 4"/>
<path d="M176.4 2042L176.4 2095" stroke-width="1.4" stroke-dasharray="6 4"/>
<path d="M319.4 2042L319.4 2095" stroke-width="1.4" stroke-dasharray="6 4"/>
<path d="M329 2042L329 2095" stroke-width="1.4" stroke-dasharray="6 4"/>
<path d="M223.5 2042L223.5 2085" stroke-width="1.4" stroke-dasharray="6 4"/>
<path d="M232.6 2042L232.6 2085" stroke-width="1.4" stroke-dasharray="6 4"/>
<path d="M264.8 2042L264.8 2085" stroke-width="1.4" stroke-dasharray="6 4"/>
<path d="M272.8 2042L272.8 2085" stroke-width="1.4" stroke-dasharray="6 4"/>
<path d="M232.6 2094L264.8 2094" stroke-width="1.4" stroke-dasharray="4 3"/>
<path d="M223.5 2085L228 2096L232.6 2085M264.8 2085L268.8 2096L272.8 2085" stroke-width="1.3" stroke-dasharray="2 2"/>
<path d="M165.7 2095L171 2105L176.4 2095M319.4 2095L324 2105L329 2095" stroke-width="1.3" stroke-dasharray="2 2"/>
<path d="M164.6 2090L164.6 2152" stroke-width="1.4"/>
<path d="M175.3 2090L175.3 2152" stroke-width="1.4"/>
<path d="M320 2090L320 2152" stroke-width="1.4"/>
<path d="M329 2090L329 2152" stroke-width="1.4"/>
<path d="M145 2142.5L164.6 2142.5" stroke-width="1.4"/>
<path d="M158.6 2144.5L164.6 2142.5L158.6 2140.5" stroke-width="1.7"/>
<path d="M176 2142.5L224 2142.5" stroke-width="1.4"/>
<path d="M182 2140.5L176 2142.5L182 2144.5" stroke-width="1.7"/>
<path d="M266 2142.5L319 2142.5" stroke-width="1.4"/>
<path d="M313 2144.5L319 2142.5L313 2140.5" stroke-width="1.7"/>
<path d="M330 2142.5L348 2142.5" stroke-width="1.4"/>
<path d="M336 2140.5L330 2142.5L336 2144.5" stroke-width="1.7"/>
<text class="t" x="245" y="2148" font-size="17" text-anchor="middle" letter-spacing="1.5">2.00</text>
<text class="t" x="190.5" y="2162.5" font-size="13" text-anchor="middle">0.16</text>
<text class="t" x="304" y="2162.5" font-size="13" text-anchor="middle">0,16</text>
</svg></body></html>
